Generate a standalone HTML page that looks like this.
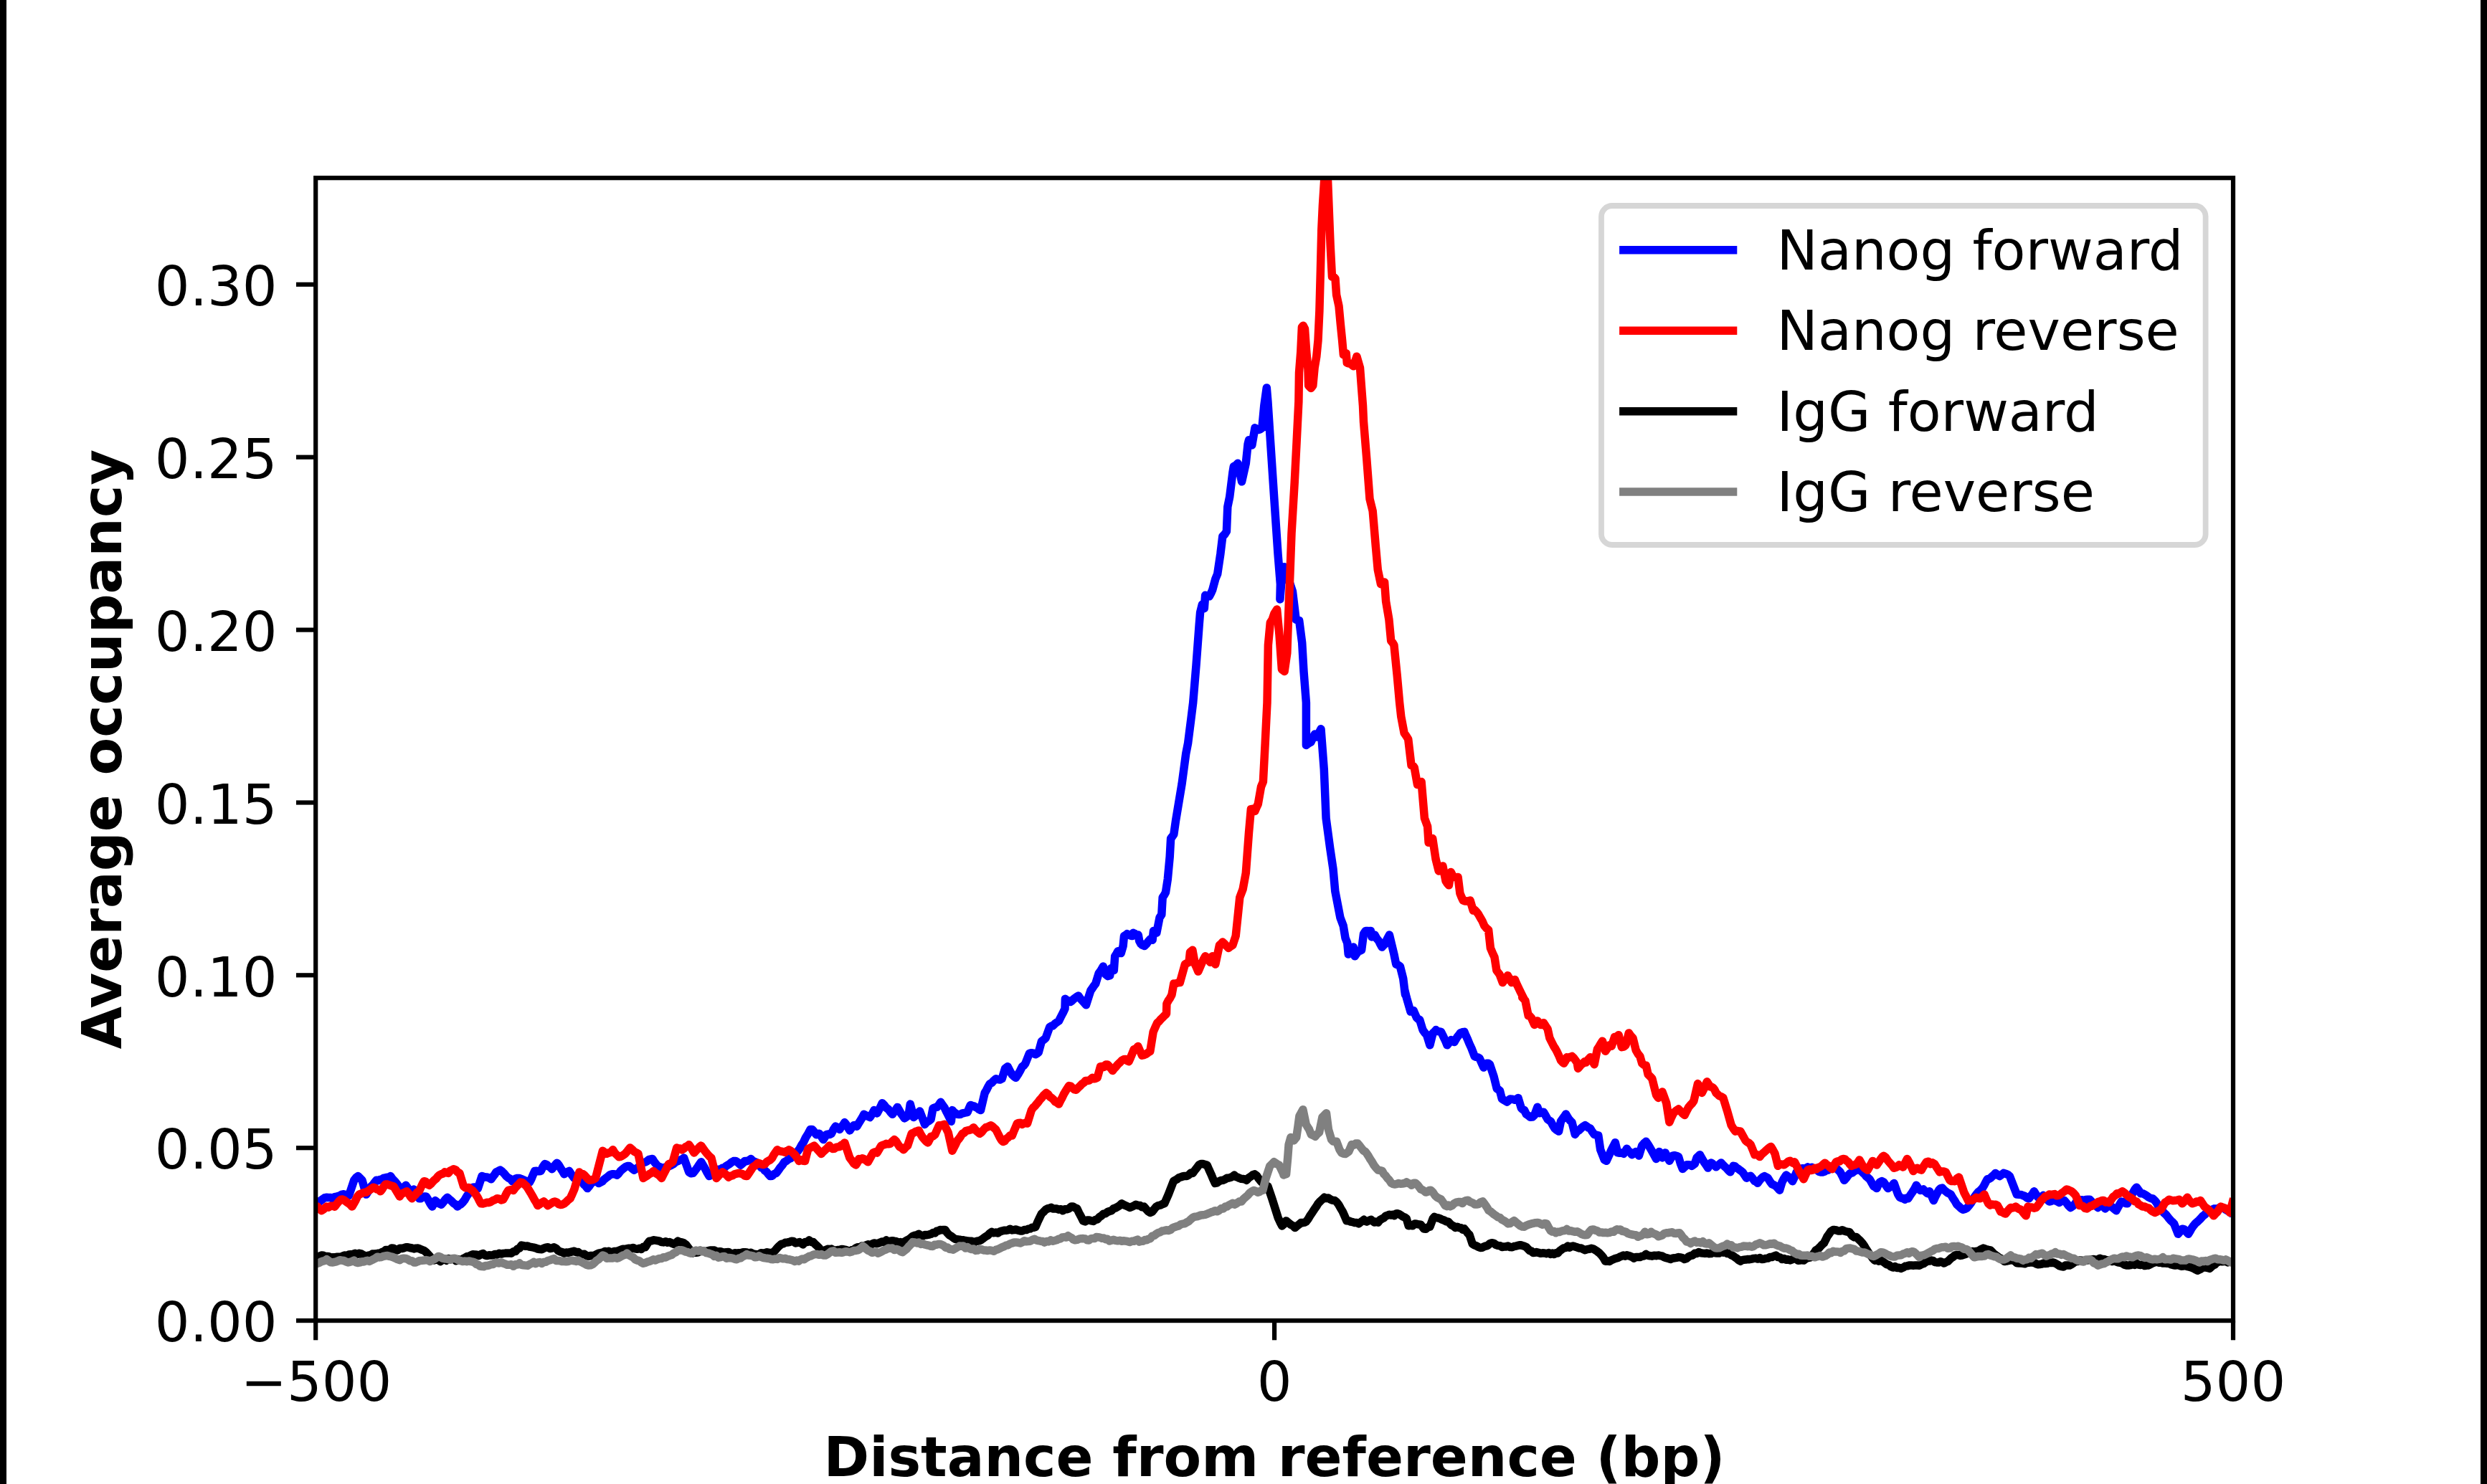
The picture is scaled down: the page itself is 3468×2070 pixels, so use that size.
<!DOCTYPE html>
<html lang="en"><head><meta charset="utf-8"><title>Average occupancy</title>
<style>
html,body{margin:0;padding:0;background:#fff;}
body{width:3468px;height:2070px;overflow:hidden;position:relative;}
svg{position:absolute;left:0;top:0;display:block;}
text{font-family:"DejaVu Sans","Liberation Sans",sans-serif;fill:#000;}
.b{font-weight:bold;}
</style></head><body>
<svg width="3468" height="2070" viewBox="0 0 3468 2070">
<rect x="0" y="0" width="3468" height="2070" fill="#fff"/>
<rect x="0" y="0" width="9" height="2070" fill="#000"/>
<rect x="3459" y="0" width="9" height="2070" fill="#000"/>

<defs><clipPath id="ax"><rect x="440.2" y="248.2" width="2673.8" height="1593.8999999999999"/></clipPath></defs>
<g clip-path="url(#ax)">
<polyline points="438.5,1678.8 440.6,1678.2 442.7,1676 445.3,1676.3 447.8,1674.4 450.4,1672.4 452.9,1670.6 455.5,1670.3 458.3,1670.5 461.2,1670.6 464,1672.3 466.5,1669.7 469.1,1669.3 471.6,1668.5 474.2,1667.7 476.7,1666.1 479.2,1665.8 481.6,1666.5 484.1,1667 486.6,1667.5 493.7,1646.3 496.5,1642.7 499.3,1640.6 502.1,1643.4 505,1646.3 510.7,1666.1 513,1662.4 515.4,1659.5 517.7,1654.8 520.1,1652.6 522.4,1649.3 524.8,1646.3 527.3,1646.7 529.8,1645.5 532.2,1645.1 534.7,1643.4 537.2,1642.9 539.7,1642.2 542.1,1642.2 544.6,1640.6 547,1644 549.3,1646.6 551.7,1649.1 554.1,1652.1 556.4,1655.7 558.8,1659 561.2,1657.2 563.5,1655.6 565.9,1653.3 568.7,1657.1 571.5,1660.4 574.4,1660.8 577.2,1659 579.6,1663.4 581.9,1667.6 584.3,1671.7 586.8,1671.7 589.2,1669.8 591.7,1669 594.2,1668.9 597,1673.3 599.9,1679 602.7,1683.1 604.8,1679.1 606.9,1674.6 609.7,1677 612.6,1679 615.4,1680.2 618.2,1677 621.1,1672.9 623.9,1670.3 626.7,1673 629.5,1675.3 632.4,1678.3 635.2,1680 638,1683.1 640.4,1680.7 642.7,1679.8 645.1,1677.4 647.9,1673.9 650.8,1668.7 653.6,1664.7 656.5,1659.8 659.3,1656.2 661.7,1656 664,1657.5 666.4,1657.6 672,1640.6 674.4,1641.3 676.7,1641.9 679.1,1642 682,1642.9 684.8,1644.8 687.1,1641.6 689.5,1638.7 691.8,1634.9 694.6,1633.6 697.5,1632.1 700.3,1634.2 703.2,1637.1 706,1640.6 708.8,1643 711.7,1644.4 714.5,1647.7 716.8,1645.7 719.2,1644 721.5,1643.4 724,1643.5 726.5,1644.4 729,1645.4 731.5,1646.3 733.8,1648.2 736.2,1648.9 738.5,1649.1 740.9,1644.5 743.2,1638.9 745.6,1633.5 748.4,1633.3 751.3,1633.8 754.1,1633.5 757,1627.6 759.8,1623.6 762.3,1624.6 764.8,1626.9 767.2,1628.1 769.7,1630.7 772,1627.8 774.4,1624.7 776.7,1622.2 779.2,1625 781.7,1629.4 784.2,1633.3 786.7,1637.8 789,1635.6 791.4,1634.5 793.7,1633.5 796.1,1637.2 798.4,1640.3 800.8,1643.4 803.6,1644.5 806.5,1645.7 809.3,1646.3 811.8,1648.4 814.2,1652.2 816.7,1654.4 819.2,1657.6 821.6,1654.8 823.9,1651.4 826.3,1649.1 829.1,1647.6 832,1648 834.8,1650.5 837.6,1649.1 840,1647.9 842.3,1645.3 844.7,1643.4 847.5,1641.4 850.4,1638.9 853.2,1637.8 855.5,1637.8 857.9,1638 860.2,1639.2 862.7,1636.9 865.2,1633.6 867.7,1631.3 870.2,1629.3 872.5,1627.5 874.9,1626.5 877.2,1626.4 879.6,1628.4 881.9,1630.3 884.3,1632.1 886.8,1630.3 889.2,1628.7 891.7,1626.7 894.2,1623.6 897,1621.8 899.9,1621 902.7,1619.4 905.1,1617.3 907.4,1616.9 909.8,1616.5 912.2,1620.5 914.5,1623.3 916.9,1626.4 919.2,1627.3 921.6,1628.4 923.9,1629.3 926.4,1628.6 928.8,1627.9 931.3,1626.6 933.8,1626.4 936.6,1625 939.5,1623.4 942.3,1620.8 945.1,1619.6 948,1618.3 950.9,1617.1 953.7,1615.1 960.7,1634.9 963.5,1636.8 966.4,1636.4 969.2,1632.9 972,1629.1 974.9,1624.8 977.7,1620.8 980.5,1625.4 983.4,1630.4 986.2,1635.9 989,1640.6 991.5,1639.1 994,1636.7 996.4,1634.1 998.9,1632.1 1001.7,1631.3 1004.6,1631.6 1007.4,1629.3 1009.9,1629.2 1012.3,1626.6 1014.8,1625.1 1017.3,1623.6 1020.1,1621.3 1023,1619.6 1025.8,1619.4 1028.2,1620.9 1030.5,1623 1032.9,1625 1035.8,1622.6 1038.6,1619.4 1041.4,1619.7 1044.3,1618.6 1047.1,1616.5 1049.6,1619.5 1052,1620.3 1054.5,1621.3 1057,1623.6 1059.3,1625.5 1061.7,1628.9 1064,1629.3 1066.5,1632.9 1069,1634.7 1071.5,1637.8 1074,1640.6 1076.8,1640.2 1079.6,1637.5 1082.4,1636.4 1085.2,1632.8 1088.1,1628.5 1091,1625.2 1093.8,1620.8 1096.6,1619.4 1099.4,1617.1 1102.3,1615.8 1105.1,1612.3 1107.6,1610.2 1110,1607.2 1112.5,1605.7 1115,1602.4 1117.8,1597.2 1120.7,1592.8 1123.5,1586.8 1126.8,1581.5 1130,1575.5 1132.6,1575.5 1135.4,1578.8 1138.2,1582.6 1140.3,1581.7 1142.5,1581.2 1145.3,1585.4 1148.1,1589.6 1150.2,1586.2 1152.4,1582.6 1154.7,1582 1157.1,1582.5 1159.4,1581.2 1162.2,1575.5 1165.1,1571.2 1167.9,1572.6 1170.8,1575.5 1173.1,1571.8 1175.5,1569.5 1177.8,1565.6 1180.2,1568.8 1182.5,1572.8 1184.9,1576.9 1187.8,1572.7 1190.6,1569.8 1192.7,1569.5 1194.8,1571.2 1197.3,1567 1199.8,1562.9 1202.2,1559.1 1204.7,1554.3 1207.5,1555.8 1210.4,1557.3 1213.2,1558.5 1216.1,1554 1218.9,1548.6 1221,1551.5 1223.1,1552.9 1225.5,1548.3 1227.8,1543.9 1230.2,1538.7 1233,1541.4 1235.9,1545.2 1238.7,1547.2 1241.6,1551.1 1244.4,1554.3 1246.7,1551.1 1249.1,1547.9 1251.4,1544.4 1253.9,1548.7 1256.3,1553 1258.8,1556.4 1261.3,1559.9 1264.2,1557.8 1267,1555.7 1269.3,1540.1 1274.1,1558.5 1276.9,1556 1279.8,1552.5 1282.6,1550 1289.6,1568.4 1292.4,1565 1295.3,1563.6 1298.1,1561.3 1301,1545.8 1303.8,1544.8 1306.6,1544.4 1309.2,1541.2 1311.7,1537.3 1314.3,1541.3 1316.8,1544.6 1319.4,1550 1321.7,1554.4 1324.1,1559.3 1326.4,1564.2 1327.9,1548.6 1330.2,1551.3 1332.6,1553 1334.9,1554.3 1337.3,1554.5 1339.6,1554.2 1342,1552.9 1344.4,1552.5 1346.7,1552 1349.1,1551.4 1351.2,1546.1 1353.3,1541.5 1355.7,1542.4 1358,1542.8 1360.4,1544.4 1362.8,1545.3 1365.1,1547.4 1367.5,1548.6 1373.2,1524.5 1375.5,1520.6 1377.9,1515.8 1380.2,1511.8 1383,1510.4 1385.9,1507.2 1388.7,1504.7 1391.5,1505.6 1394.4,1506.1 1397.2,1504.7 1401.5,1490.6 1405.1,1487.7 1408.2,1493.7 1411.4,1499.1 1414,1501.5 1416.5,1503.3 1419.5,1498.8 1422.5,1493.6 1425.5,1487.7 1427.7,1486.2 1429.8,1483.5 1435.4,1469.3 1438.2,1468.7 1441.1,1469.2 1443.9,1470.8 1446.1,1469.7 1448.2,1467.9 1452.4,1452.4 1455.2,1450.5 1458.1,1448.1 1463.7,1432.6 1465.8,1431.3 1468,1431.1 1470.8,1428.2 1473.7,1426 1476.5,1424.1 1479.3,1418.5 1482.2,1412.9 1485,1407.1 1485.4,1393.3 1487.8,1395.5 1490.1,1395.9 1492.5,1397.5 1494.8,1396.1 1497.2,1393.6 1499.5,1391.8 1501.7,1390.2 1503.8,1389 1506.5,1392.9 1509.2,1395.8 1511.8,1398.7 1514.5,1401.8 1520.8,1381.9 1523.1,1378.6 1525.5,1375.1 1527.8,1372 1532.1,1357.9 1535.2,1353.5 1538.3,1348 1542,1359.3 1544.8,1361.6 1547.7,1360.7 1549.1,1350.8 1551.2,1353.2 1553.3,1353.6 1554.7,1333.8 1556.8,1330.6 1559,1326.7 1561.1,1329 1563.2,1329.6 1566.1,1319.7 1567.5,1305.5 1569.6,1304.4 1571.7,1302.7 1574.1,1304.1 1576.4,1305.1 1578.8,1305.5 1580.2,1301.3 1582.6,1302.5 1584.9,1304.5 1587.3,1304.1 1588.7,1312.6 1590.8,1316.5 1592.9,1318.3 1595.8,1319.5 1598.6,1316.8 1601.4,1312.9 1604.3,1309.8 1607.1,1311.2 1608.5,1298.4 1610.7,1300.7 1612.8,1301.3 1617,1280 1619.8,1275.8 1621.2,1251.7 1623.3,1248.7 1625.5,1244.7 1628.3,1226.3 1631.2,1195.1 1632.6,1169.6 1634.7,1166.9 1636.8,1164 1639.6,1144.2 1648.1,1093.2 1653.8,1050.8 1656.6,1036.6 1660.9,1002.6 1663.7,980 1668,928 1672.2,871.4 1673.6,854.4 1676.4,843.1 1679.3,848.7 1680.7,830.3 1683.6,831 1686.4,831.7 1688.5,827.8 1690.6,823.2 1694.8,807.7 1697.7,800.6 1701.9,772.3 1704.8,748.2 1707.6,745.5 1710.4,741.2 1711.8,707.2 1714.7,693 1718.9,659.1 1720.3,650.6 1723.2,649.4 1726,646.3 1731.6,671.8 1737.3,646.3 1740.1,619.4 1741.5,613.8 1743.7,617.7 1745.8,620.9 1750,596.8 1752.2,598.5 1754.3,599.6 1757.1,598.9 1759.9,596.8 1762.8,565.7 1766.3,540.9 1767.9,560 1771.6,616.6 1777.2,701.5 1782,772.3 1785.4,814.8 1784.9,836 1788.3,794.9 1791.1,790.7 1802.4,824.7 1807.2,864.3 1809.5,865.3 1811.7,865.7 1815.7,896.8 1818,936.5 1821.4,980.1 1821.4,1039.4 1824.7,1036.9 1827.9,1035.2 1830.7,1029.2 1833.5,1023.9 1836.4,1028.1 1839.2,1022.3 1842,1016.8 1846.3,1073.4 1849.1,1141.3 1854.8,1183.8 1859,1212.1 1861.8,1243.2 1868.9,1280 1873.2,1291.4 1876,1308.3 1878.8,1315.4 1880.2,1331 1882.6,1327.7 1884.9,1325.4 1887.3,1321.1 1889.3,1333.8 1891.8,1330.1 1894.4,1326.7 1896.5,1326.2 1898.6,1325.3 1901.5,1302.7 1904.3,1298.4 1906.7,1298.5 1909,1298.7 1911.4,1298.4 1912.8,1306.9 1914.9,1306.4 1917,1304.1 1919.8,1309.1 1922.7,1312.6 1924.8,1317.1 1927,1321.1 1929.1,1318.8 1931.2,1316.8 1934.3,1310 1937.4,1304.1 1943.9,1331 1946.8,1345.1 1949.6,1346.1 1952.4,1348 1956.7,1365 1959.5,1387.6 1958.5,1380 1961.3,1391.3 1967,1411.1 1969.1,1411.1 1971.2,1409.7 1973.3,1414.7 1975.5,1419.6 1977.6,1421.5 1979.7,1422.5 1984,1436.6 1986.8,1440.6 1989.6,1443.7 1993.9,1457.8 1998.1,1440.9 2000.2,1439.2 2002.4,1436.6 2004.8,1438.6 2007.1,1438.9 2009.5,1439.4 2011.6,1443.5 2013.7,1447.9 2015.8,1452.4 2018,1457.8 2020.8,1454.4 2023.6,1450.8 2025.8,1452.1 2027.9,1453.6 2030,1449.9 2032.1,1446.5 2034.2,1444 2036.4,1440.9 2039.2,1439.8 2042,1439.4 2044.2,1444.8 2046.3,1449.3 2049.1,1456.1 2051.9,1462.1 2056.2,1473.4 2058.5,1474.4 2060.9,1474.8 2063.2,1476.2 2066.1,1482.9 2068.9,1489 2071.1,1485.8 2073.2,1483.3 2075.3,1483.2 2077.4,1484.7 2083.1,1501.7 2087.3,1518.7 2089.4,1519.8 2091.5,1521.5 2094.4,1532.9 2096.8,1534.3 2099.1,1535.7 2101.5,1537.1 2103.6,1535.2 2105.7,1532.9 2108.1,1533.2 2110.4,1533.7 2112.8,1534.3 2114.9,1533.5 2117,1531.4 2121.3,1545.6 2123.4,1547.7 2125.5,1548.4 2128.3,1554.1 2131.2,1556.2 2134,1558.3 2136.8,1558.1 2139.7,1555.5 2143.9,1544.2 2146.7,1552.7 2149.6,1551 2152.4,1551.2 2155.2,1556 2158.1,1561.2 2160.2,1562.9 2162.3,1564 2165.2,1569.4 2168,1573.9 2170.8,1576.4 2173.6,1578.1 2176.5,1564 2178.8,1560.7 2181.2,1557.6 2183.5,1554.1 2185.7,1557.7 2187.8,1561.2 2189.9,1563.5 2192,1565.4 2196.3,1582.4 2199.1,1578.2 2201.9,1576.7 2204.7,1573.9 2207.6,1571.3 2210.4,1569.6 2212.8,1571.3 2215.1,1573.1 2217.5,1573.9 2220.3,1578.6 2223.2,1582.4 2226,1583.2 2228.8,1583.8 2231.7,1603.6 2237.3,1617.8 2240.2,1619.2 2242.5,1614.2 2244.9,1608.8 2247.2,1603.6 2249.8,1598.7 2252.3,1593.7 2255.7,1607.9 2258.5,1608.3 2261.4,1608.1 2264.2,1609.3 2266.3,1606.3 2268.5,1602.2 2270.8,1605.7 2273.2,1607.2 2275.5,1610.7 2278.3,1608.7 2281.2,1606.4 2283.3,1608.7 2285.4,1612.1 2289.7,1598 2292.5,1594.7 2295.3,1592.3 2297.7,1595.7 2300,1599.5 2302.4,1603.6 2304.8,1607.8 2307.1,1612 2309.5,1616.4 2311.6,1610.9 2313.7,1606.4 2315.8,1610.4 2318,1614.9 2320.1,1611.4 2322.2,1607.9 2325.1,1614.1 2327.9,1619.2 2330,1615.8 2332.1,1612.1 2334.9,1611.7 2337.8,1612.3 2340.6,1613.5 2343.5,1623.4 2346.3,1630.5 2349.2,1627.8 2352,1624.8 2354.3,1624.7 2356.7,1624.9 2359,1626.3 2361.2,1624.9 2363.3,1623.4 2366.1,1614.9 2368.2,1612.8 2370.4,1610.7 2373.2,1615.7 2376,1620.6 2378.8,1624.6 2381.7,1629.1 2383.8,1625.2 2385.9,1622 2388.3,1623.5 2390.6,1625.5 2393,1627.7 2395.4,1625.5 2397.7,1624 2400.1,1622 2402.5,1624.7 2404.8,1627.1 2407.2,1629.1 2410,1632.4 2412.8,1634.8 2414.9,1630.4 2417.1,1626.3 2419.4,1626.9 2421.8,1629.2 2424.1,1630.5 2426.9,1632.7 2429.8,1634.8 2432.7,1639.1 2435.5,1643.2 2438.3,1641.1 2441.1,1640.4 2443.9,1643.6 2446.8,1647.5 2448.9,1648.3 2451,1650.3 2453.4,1646.9 2455.7,1644.1 2458.1,1641.8 2460.5,1640.6 2462.8,1642 2465.2,1643.2 2468,1647.8 2470.8,1651.7 2473.7,1652.9 2476.5,1654.6 2479.1,1657.4 2481.6,1660.2 2485,1648.9 2487.8,1643.5 2490.7,1639 2493.5,1641.2 2496.3,1643.2 2499.5,1647.7 2502.3,1641.9 2505.2,1634.9 2508.1,1632.6 2510.9,1630.7 2513.4,1629.7 2515.9,1630.3 2518.3,1629.3 2520.8,1627.9 2523.6,1629.2 2526.5,1628.4 2529.3,1630.7 2531.8,1630.8 2534.4,1632.7 2536.9,1634.5 2539.5,1635.1 2542,1634.9 2544.4,1634 2546.7,1632.6 2549.1,1632.1 2551.9,1628.9 2554.8,1627.1 2557.6,1626.4 2560.4,1629.3 2563.3,1632.1 2566.1,1634.9 2568.9,1640.2 2571.7,1646.3 2574.6,1643.1 2577.4,1639.2 2580.2,1636.5 2583.1,1635.8 2585.9,1633.5 2588.2,1632.5 2590.6,1631.9 2592.9,1630.7 2595.3,1633.5 2597.6,1635.8 2600,1637.8 2602.4,1640.9 2604.7,1642.8 2607.1,1644.8 2609.9,1649.8 2612.8,1654.8 2614.9,1655.8 2617,1657.6 2619.1,1652.8 2621.2,1649.1 2624.1,1647.6 2626.9,1649.1 2629.8,1653.5 2632.6,1657.6 2635.4,1655.8 2638.3,1653.9 2641.1,1650.5 2646.7,1666.1 2649.1,1670 2651.4,1671.1 2653.8,1671.7 2656.2,1673.2 2658.5,1671.1 2660.9,1671.7 2663.7,1667.2 2666.5,1663.2 2669.3,1659 2672.2,1653.3 2675.1,1657.5 2677.9,1660.4 2680,1660.1 2682.1,1659 2684.9,1662.1 2687.8,1664.7 2690.6,1661.8 2693.4,1667.7 2696.3,1674.6 2699.1,1668.4 2701.9,1663.2 2704.1,1659.5 2706.2,1657.6 2708.5,1657.1 2710.9,1660 2713.2,1661.8 2715.6,1663.7 2717.9,1664.8 2720.3,1666.1 2723.1,1671 2726,1675.2 2728.8,1680.2 2731.6,1682.6 2734.5,1685.4 2737.3,1687.3 2740.1,1686.5 2743,1684.9 2745.8,1681.6 2748.3,1678.3 2750.8,1674.1 2753.2,1669.8 2755.7,1666.1 2758.5,1662.8 2761.4,1660.5 2764.2,1657.6 2766.6,1653.6 2768.9,1649.2 2771.3,1644.8 2773.6,1644.5 2776,1642.9 2778.3,1640.6 2780.4,1638.8 2782.6,1636.4 2785.4,1638.6 2788.3,1640.6 2791.1,1638.6 2793.9,1636.4 2796.7,1637.2 2799.6,1638.3 2802.4,1640.6 2812.3,1666.1 2815.1,1666.3 2818,1666.4 2820.8,1667.5 2823.6,1668.5 2826.5,1670.9 2829.3,1671.7 2831.7,1668.5 2834,1665.7 2836.4,1661.8 2839.2,1666.3 2842,1670.3 2844.4,1670.7 2846.7,1669.3 2849.1,1667.5 2851.9,1669.7 2854.8,1673.5 2857.6,1676 2860,1675.6 2862.3,1673.5 2864.7,1674.6 2867.1,1675 2869.4,1676.3 2871.8,1677.4 2874.1,1675.5 2876.5,1674.7 2878.8,1674.6 2881.6,1677.9 2884.5,1681.9 2887.3,1684.5 2890.1,1682.6 2893,1679.8 2895.8,1676 2898.3,1677.4 2900.8,1673.9 2903.2,1673.7 2905.7,1674.6 2908.6,1673.5 2911.4,1673.2 2914.2,1673.3 2917.1,1676.6 2919.9,1678.8 2922.7,1682 2925.5,1684.5 2928.3,1682.1 2931.2,1680.2 2933.3,1682.8 2935.4,1685.9 2937.8,1683.7 2940.1,1682.7 2942.5,1681.6 2945.3,1683.8 2948.2,1686.3 2951,1688.7 2953.4,1684.1 2955.7,1680.2 2958.1,1676 2960.9,1676.6 2963.8,1678.5 2966.6,1678.8 2969,1674.3 2971.3,1669 2973.7,1664.7 2976.5,1659.7 2979.3,1656.2 2982.2,1660.1 2985,1664.7 2987.8,1664.7 2990.6,1666.1 2993.4,1667.9 2996.3,1670 2999.1,1671.5 3002,1672 3004.8,1674.6 3007.2,1677.6 3009.5,1682 3011.9,1685.9 3014.7,1688.1 3017.6,1691.9 3020.4,1694.4 3022.7,1697.3 3025.1,1700.3 3027.4,1702.9 3029.6,1704.7 3031.7,1707.1 3037.3,1721.3 3040.2,1717.6 3043,1714.2 3045.8,1714.9 3048.7,1718.1 3051.5,1721.3 3053.9,1717.4 3056.2,1713.3 3058.6,1709.9 3061.1,1706.8 3063.6,1704.6 3066,1702.4 3068.5,1700 3071.3,1696.7 3074.2,1694.5 3077,1691.5 3079.5,1689.3 3082.1,1689.6 3084.6,1687.3 3087.2,1686.1 3089.7,1685.9 3092.5,1686 3095.4,1684.4 3098.2,1684.5 3100.8,1685 3103.4,1687.3 3106,1688.7 3108.6,1690.1 3111.2,1691.9 3113.8,1694.4" fill="none" stroke="#0000ff" stroke-width="11.5" stroke-linejoin="round" stroke-linecap="butt"/>
<polyline points="438.5,1684.5 440.6,1685.6 442.7,1683.1 445.5,1686.1 448.4,1688.7 450.8,1687.2 453.1,1685.2 455.5,1683.1 458.3,1684.1 461.1,1682.2 464,1682.3 466.8,1683.1 469.6,1679.3 472.5,1675.8 475.3,1673.2 477.7,1673 480,1674.2 482.4,1676 485.2,1677.9 488.1,1680 490.9,1683.1 493.4,1678.8 495.9,1674.4 498.3,1669.1 500.8,1666.1 503.3,1665.1 505.8,1664.2 508.2,1663.2 510.7,1663.2 513.2,1661.3 515.6,1659.8 518.1,1658 520.6,1656.2 523.1,1657.1 525.5,1658.9 528,1659.4 530.5,1661.8 532.9,1658.8 535.2,1654.8 537.6,1651.9 540.4,1652.1 543.2,1653.1 546.1,1654.2 548.9,1654.8 551.7,1659.4 554.6,1664.3 557.4,1668.9 559.9,1665.1 562.3,1664.3 564.8,1662.9 567.3,1661.8 569.7,1664.7 572,1668.8 574.4,1671.7 576.9,1668.9 579.3,1666.5 581.8,1663.1 584.3,1661.8 586.6,1656.8 589,1651.7 591.3,1647.7 593.7,1648.1 596,1652 598.4,1653.3 600.8,1651.5 603.1,1648.8 605.5,1646.3 608,1644.3 610.5,1641.2 612.9,1638.9 615.4,1637.8 617.9,1637 620.3,1634.9 622.8,1635.9 625.3,1636.4 627.7,1633.2 630,1632 632.4,1630.7 635.2,1631.6 638.1,1635 640.9,1636.4 646.5,1654.8 649,1656.8 651.5,1656.8 653.9,1656.5 656.4,1659 658.8,1660.4 661.1,1663.2 663.5,1666.1 665.9,1669.8 668.2,1674.4 670.6,1678.8 673.4,1679 676.2,1678.2 679.1,1677.3 681.9,1677.4 684.7,1676.3 687.5,1674.4 690.4,1673.5 693.2,1671.7 696,1672.1 698.9,1673.9 701.7,1673.2 704.1,1669 706.4,1664.3 708.8,1660.4 711.2,1659.9 713.5,1659.4 715.9,1660.4 718.4,1656.9 720.8,1654.3 723.3,1652 725.8,1649.1 728.6,1649.7 731.5,1652.2 734.3,1654.8 737.1,1659.2 740,1664 742.8,1668.9 745.2,1673.3 747.5,1676.9 749.9,1681.6 752.7,1679.7 755.5,1677.6 758.3,1676 761.1,1678.7 764,1681.6 766.5,1679.9 769,1678.4 771.4,1676.8 773.9,1676 776.4,1677 778.8,1679.5 781.3,1680.4 783.8,1680.2 786.6,1679 789.5,1676.6 792.3,1673.8 795.1,1671.7 798,1665.5 800.8,1659 807.9,1634.9 810.3,1637.7 812.6,1637.5 815,1639.2 817.3,1641.8 819.7,1644.5 822,1646.3 824.8,1645.9 827.7,1645.1 830.5,1643.4 840.4,1605.2 843.2,1607.5 846.1,1609.3 848.9,1608 851.8,1607.4 854.6,1603.8 857.4,1608.4 860.3,1611.1 863.1,1613.7 865.9,1613.3 868.8,1611.4 871.6,1609.5 873.9,1606.9 876.3,1603.7 878.6,1601 881.5,1603.4 884.3,1606.2 887.1,1607.7 890,1609.5 897,1643.4 899.8,1641.7 902.7,1639.9 905.5,1637.6 908.4,1636.1 911.2,1633.5 914,1636.3 916.9,1638 919.7,1640.1 922.5,1643.4 925,1638.5 927.5,1633.7 929.9,1629 932.4,1623.6 935.2,1622.7 938.1,1620.8 943.7,1601 946.1,1602.3 948.4,1601.9 950.8,1603.8 953.3,1602.5 955.8,1599.9 958.2,1598.9 960.7,1596.7 963.1,1600.1 965.4,1603.8 967.8,1608 970.3,1605.3 972.8,1602.7 975.2,1600.1 977.7,1598.1 980.5,1602.1 983.4,1606.1 986.2,1609.5 989,1612.7 991.9,1615.1 998.9,1643.4 1001.7,1640.5 1004.6,1637.3 1007.4,1634.9 1010.2,1636.8 1013.1,1639.1 1015.9,1642 1018.7,1640.3 1021.6,1639.6 1024.4,1637.8 1027.2,1637.1 1030.1,1636.4 1032.9,1636.9 1035.8,1637.8 1038.6,1640.1 1041.4,1640.6 1044.2,1636.6 1047.1,1632.3 1049.9,1627.9 1052.3,1626.3 1054.6,1624.5 1057,1622.2 1059.5,1623 1062,1624.1 1064.4,1624.5 1066.9,1623.6 1069.3,1620.5 1071.6,1619.2 1074,1618 1076.5,1615.5 1079,1610.8 1081.4,1607.4 1083.9,1603.8 1086.7,1605.6 1089.6,1606 1092.4,1606.6 1094.7,1607.4 1097.1,1605.2 1099.4,1605.2 1100,1603.8 1102.8,1605.3 1105.7,1608.1 1108.5,1610.9 1111.3,1614.7 1114.2,1619.4 1117,1617.8 1119.8,1619.3 1122.6,1619.4 1126.9,1602.4 1129.7,1601.1 1132.6,1599.6 1135.4,1598.1 1137.9,1600.8 1140.3,1603.8 1142.8,1606.6 1145.3,1609.5 1148.1,1606.3 1150.9,1603.9 1153.8,1601.2 1156.6,1598.1 1158.8,1600.4 1160.9,1602.4 1163.4,1602.3 1165.8,1600.4 1168.3,1599.9 1170.8,1599.6 1173.1,1597.3 1175.5,1596.4 1177.8,1593.9 1184.9,1615.1 1187.7,1618.8 1190.6,1622.9 1193.4,1625 1195.6,1621.7 1197.7,1616.5 1200,1617.4 1202.4,1615.8 1204.7,1616.5 1207.6,1618.7 1210.4,1620.8 1212.8,1616.5 1215.1,1612.2 1217.5,1608 1220.3,1606.8 1223.1,1608 1225.9,1603.1 1228.8,1598.1 1231.2,1597.3 1233.5,1596.6 1235.9,1595.3 1238.7,1595.8 1241.5,1595.3 1244.3,1592.1 1247.2,1589.6 1249.6,1591.9 1251.9,1595.7 1254.3,1599.6 1257.1,1601 1259.9,1603.8 1262.8,1600.4 1265.6,1598.1 1271.2,1581.2 1274.1,1580.1 1276.9,1578.3 1279.1,1577.7 1281.2,1576.9 1284,1582.4 1286.8,1586.8 1289.2,1589.6 1291.5,1592.1 1293.9,1593.9 1296,1590 1298.1,1585.4 1300.9,1584.8 1303.8,1582.6 1306.7,1576 1309.5,1569.8 1311.8,1570 1314.2,1569.2 1316.5,1568.4 1319.3,1573.8 1322.2,1579.7 1327.9,1605.2 1330.2,1600.6 1332.6,1596 1334.9,1591.1 1337.3,1588.4 1339.6,1585.1 1342,1581.2 1344.4,1580.4 1346.7,1577.6 1349.1,1576.9 1351.9,1576.3 1354.8,1575.4 1357.6,1572.7 1360.4,1576.4 1363.3,1579 1366.1,1581.2 1368.9,1579.2 1371.8,1575.5 1374.6,1572.7 1376.9,1572.2 1379.3,1571 1381.6,1569.8 1384,1571.2 1386.3,1573.6 1388.7,1575.5 1391.6,1581.3 1394.4,1586.8 1396.5,1590.4 1398.6,1592.5 1401,1591.6 1403.3,1588.3 1405.7,1586.8 1408.6,1583.8 1411.4,1584 1413.7,1578 1416.1,1572.5 1418.4,1567 1420.8,1566.4 1423.1,1566.2 1425.5,1568.4 1427.9,1567 1430.2,1566.1 1432.6,1567 1438.3,1548.6 1440.6,1545.1 1443,1543 1445.3,1540.1 1447.7,1537.4 1450,1534.2 1452.4,1531.6 1455.7,1527.4 1458.9,1524.5 1461.5,1526.4 1464,1529.9 1466.6,1531.6 1469.1,1533.8 1471.5,1536.8 1474,1538 1476.5,1540.1 1478.8,1535.3 1481.2,1530.9 1483.5,1526 1485.9,1522 1488.2,1518.3 1490.6,1514.6 1493.1,1515.1 1495.5,1517.5 1498,1519.6 1500.5,1520.3 1503.3,1517.4 1506.2,1514.7 1509,1511.8 1511.4,1510.2 1513.7,1507.5 1516.1,1507.6 1518.5,1507.2 1520.8,1505.6 1523.2,1503.3 1525.5,1504.8 1527.9,1504.3 1530.2,1503.3 1534.5,1487.7 1537,1487.5 1539.5,1488.4 1541.9,1485.1 1544.4,1484.9 1546.8,1487.5 1549.1,1490.3 1551.5,1493.4 1553.9,1490.3 1556.2,1487.9 1558.6,1484.9 1561.4,1482.3 1564.2,1479.3 1567,1477.8 1569.4,1477.5 1571.7,1479.5 1574.1,1480.7 1576.5,1475.3 1578.8,1469.7 1581.2,1463.7 1584.1,1462.8 1586.9,1459.4 1589.7,1465.9 1592.5,1472.2 1595.3,1471.6 1598.2,1470.2 1601,1468.2 1603.8,1466.5 1608.1,1439.6 1610.9,1433.1 1613.7,1426.9 1616.1,1424.8 1618.4,1422 1620.8,1419.8 1623.7,1416.8 1626.5,1414.2 1626.9,1400.1 1629.3,1395.5 1631.6,1392.2 1634,1387.6 1636.8,1372 1639.6,1372 1642.5,1370.8 1645.3,1370.6 1652.4,1345.1 1655.2,1343.5 1658,1342.3 1659.5,1328.2 1662.9,1325.3 1666.5,1345.1 1668.7,1350 1670.8,1355.1 1673.6,1348.7 1676.4,1342.3 1678.6,1337.5 1680.7,1333.8 1683.1,1335.7 1685.4,1339.3 1687.8,1342.3 1690.6,1333.8 1694.8,1345.1 1700.5,1318.3 1702.7,1316.6 1704.8,1314 1707.6,1316.5 1710.4,1319.6 1713.2,1322.5 1716.1,1320 1718.9,1318.3 1723.2,1305.5 1728.8,1251.7 1733.1,1240.4 1737.3,1217.8 1741.5,1161.2 1744.4,1128.6 1747.2,1128.3 1750,1131.4 1752.2,1126 1754.3,1121.5 1758.5,1097.5 1761.4,1090.4 1764.2,1036.6 1767,980 1768.4,899.7 1771.3,868.5 1774.1,864.3 1776.9,855.8 1780.6,850.1 1784,885.5 1787.4,933.6 1791.1,936.5 1794.8,911 1796.7,857.2 1798.7,806.3 1801,744 1805.2,673.2 1808.1,616.6 1810.9,560 1811.5,519.9 1813.8,490.4 1815.4,456.4 1817.2,454.2 1819.5,458.7 1821.7,490.4 1824,515.3 1824.7,538 1828.1,541.4 1830.8,538 1833.1,513.1 1835.8,497.2 1838,474.6 1839.9,433.8 1841.4,377.2 1842.8,320.6 1844.4,286.6 1846.6,252.6 1848.9,216.4 1851.6,252.6 1853.4,297.9 1855.2,343.2 1857.5,386.2 1859.8,386.2 1862,388.5 1863.6,411.2 1867,427 1869.3,451.9 1871.6,474.6 1873.4,494.9 1877.2,492.7 1878.3,506.3 1880.6,506.9 1882.9,507.4 1885.2,509 1887.4,510.8 1891.9,497.2 1896.5,513.1 1898.7,542.5 1900.5,566 1901.5,588.3 1905.7,639.3 1910,695.9 1914.2,712.9 1918.5,763.8 1921.3,794.9 1925.5,814.8 1928,813.3 1930.6,811.9 1932.6,838.8 1936.9,864.3 1939.7,894 1941.8,896.2 1943.9,899.7 1948.2,942.1 1951.6,980.1 1953.8,999.8 1958.1,1022.5 1960.9,1026.5 1963.7,1031 1968,1067.7 1970.1,1067.9 1972.2,1070.6 1976.5,1094.6 1979.3,1092.1 1982.1,1090.4 1986.4,1141.3 1990.6,1152.7 1992.1,1175.3 1994.9,1173 1997.7,1169.6 2002,1198 2006.2,1214.9 2009.1,1211.1 2011.9,1207.9 2016.1,1229.1 2018.2,1232.2 2020.4,1234.8 2023.2,1216.4 2025.3,1220.5 2027.4,1223.4 2030.2,1223.9 2033.1,1223.4 2035.9,1246.1 2038.1,1251.5 2040.2,1256 2042.6,1257 2044.9,1256.8 2047.3,1257.4 2050.1,1256 2054.3,1270.1 2056.4,1269.2 2058.6,1271.5 2061.4,1274.9 2064.2,1280 2067.1,1284.9 2069.9,1291.4 2072.8,1294.9 2075.6,1297 2078.4,1322.5 2081.2,1329.1 2084,1335.2 2086.9,1353.6 2089,1356.5 2091.1,1359.3 2095.4,1370.6 2097.7,1366.8 2100.1,1364.5 2102.4,1360.7 2105.2,1365.4 2108.1,1370.6 2110.2,1369.1 2112.4,1366.4 2114.7,1372.1 2117.1,1377 2119.4,1381.9 2122.2,1387.5 2125.1,1393.3 2122.7,1391.3 2124.8,1393.4 2126.9,1395.6 2131.2,1416.8 2133.3,1417.4 2135.4,1419.6 2137.6,1424.6 2139.7,1429.5 2141.8,1427.4 2143.9,1423.9 2146.1,1427.4 2148.2,1429.5 2150.3,1429.2 2152.4,1426.7 2155.2,1431 2158.1,1435.2 2160.9,1447.9 2163.8,1453.7 2166.6,1459.3 2168.7,1462.5 2170.8,1466.3 2173.7,1472.4 2176.5,1479.1 2178.6,1481.4 2180.7,1483.3 2182.8,1479.9 2185,1474.8 2187.3,1475.4 2189.7,1474.4 2192,1473.4 2194.4,1475.5 2196.7,1478.8 2199.1,1481.9 2200.5,1490.4 2202.9,1487.5 2205.2,1484.7 2207.6,1483.3 2209.7,1480.8 2211.8,1481.9 2214.7,1477.9 2217.5,1474.8 2220.3,1479.5 2223.2,1484.7 2227.4,1463.5 2229.8,1459.9 2232.1,1455.9 2234.5,1452.2 2238.7,1466.3 2241.6,1462 2244.4,1457.8 2247.2,1459.3 2251.5,1446.5 2254.3,1446.1 2257.1,1443.7 2261.4,1460.7 2264.2,1460.2 2267,1457.8 2271.3,1440.9 2274.2,1445 2277,1447.9 2281.2,1464.9 2284.1,1470 2286.9,1473.4 2289.7,1483.3 2292.5,1485.5 2295.3,1486.1 2298.2,1498.9 2301,1501.5 2303.8,1504.5 2309.5,1527.2 2312.3,1531.4 2315.2,1526.7 2318,1522.9 2323.7,1538.5 2327.9,1565.4 2330.8,1558.4 2333.6,1552.7 2335.9,1550.5 2338.3,1548.5 2340.6,1547 2343.4,1549.9 2346.3,1553.1 2349.1,1555.5 2351.9,1549.7 2354.8,1544.2 2357.2,1541.4 2359.5,1539.1 2361.9,1535.7 2367.5,1511.6 2370.3,1518.2 2373.2,1524.4 2375.6,1519.6 2377.9,1514.1 2380.3,1508.8 2382.4,1512.1 2384.5,1515.9 2386.7,1516.2 2388.8,1517.3 2390.9,1520 2393,1524.4 2395.2,1526.4 2397.3,1528.6 2400.1,1529.6 2402.9,1531.4 2408.6,1549.8 2414.2,1569.6 2417.1,1574.3 2419.9,1578.1 2422.3,1577.3 2424.6,1577.9 2427,1578.1 2429.3,1582.5 2431.7,1586.6 2434,1590.9 2436.4,1593 2438.7,1594.3 2441.1,1596.5 2443.9,1603.2 2446.8,1610.7 2449.2,1610.2 2451.5,1611.5 2453.9,1613.5 2456.7,1609.9 2459.6,1607.6 2462.4,1605 2464.7,1602.8 2467.1,1600.8 2469.4,1599.4 2472.2,1603.9 2475.1,1609.3 2479.3,1626.3 2482.1,1623.7 2485,1624.1 2487.8,1624.8 2490.6,1622.8 2493.5,1620.2 2496.3,1619.2 2500.1,1622.2 2502.4,1620.8 2505.2,1626.1 2508,1632.1 2510.4,1636.4 2512.7,1640.4 2515.1,1644.8 2517.9,1638.4 2520.8,1632.1 2523.3,1631 2525.8,1632.5 2528.2,1631.9 2530.7,1629.3 2533,1630.7 2535.4,1628.6 2537.7,1627.9 2540.1,1626.4 2542.4,1624.2 2544.8,1622.2 2547.3,1624.6 2549.8,1626.2 2552.2,1628.6 2554.7,1630.7 2557.6,1625.5 2560.4,1620.8 2562.9,1619.7 2565.4,1619.9 2567.8,1617.2 2570.3,1616.5 2572.7,1616.9 2575,1619.2 2577.4,1620.8 2579.5,1623.9 2581.6,1626.4 2584,1625.4 2586.3,1624.9 2588.7,1623.6 2590.8,1621.1 2592.9,1618 2595.3,1622.1 2597.6,1626.2 2600,1629.3 2602.2,1630.8 2604.3,1632.1 2606.6,1628.1 2609,1623.8 2611.3,1619.4 2614.2,1622 2617,1625 2619.8,1620.9 2622.7,1616.5 2624.8,1613.8 2626.9,1612.3 2629.7,1614.7 2632.6,1619 2635.4,1622.2 2638.2,1625.3 2641.1,1629.3 2643.4,1628.6 2645.8,1627.4 2648.1,1625 2650.9,1626.6 2653.8,1627.9 2656.7,1621.9 2659.5,1616.5 2662.3,1621.3 2665.2,1627.4 2668,1633.5 2670.8,1630.1 2673.6,1629.3 2676.4,1631.1 2679.3,1632.1 2681.7,1627.8 2684,1624.3 2686.4,1620.8 2689.2,1620.2 2692,1623.6 2694.8,1621.9 2697.7,1623.6 2700.1,1627.6 2702.4,1631.1 2704.8,1634.9 2707.6,1634 2710.4,1634 2713.2,1634.9 2716.1,1640.6 2718.9,1646.3 2721.3,1647.5 2723.6,1647.4 2726,1647.7 2728.8,1643.8 2731.6,1642 2738.7,1663.2 2741.6,1668.7 2744.4,1674.6 2747.2,1674 2750.1,1674.4 2752.9,1672.4 2755.7,1670.3 2758.6,1671.6 2761.4,1671.7 2764.2,1668.8 2767,1666.1 2769.8,1672.7 2772.7,1678.8 2775.2,1681.1 2777.8,1679.9 2780.3,1680.5 2782.9,1680.2 2785.4,1681.6 2787.6,1685.5 2789.7,1690.1 2792,1690.6 2794.4,1692.2 2796.7,1693 2799.1,1689.8 2801.4,1687 2803.8,1684.5 2806.2,1684.9 2808.5,1684.4 2810.9,1683.1 2813.3,1685.2 2815.6,1686.5 2818,1687.3 2820.4,1690.2 2822.7,1693.2 2825.1,1695.8 2827.9,1683.1 2830.7,1684.1 2833.6,1684.1 2836.4,1685.2 2839.2,1684.5 2841.6,1681.4 2843.9,1678.4 2846.3,1674.6 2849.1,1672 2851.9,1668.9 2854.8,1668.2 2857.6,1666.1 2860.1,1666.2 2862.7,1666 2865.2,1665.6 2867.8,1667.7 2870.3,1667.5 2873.2,1665.8 2876,1663.6 2878.8,1661.6 2881.7,1659 2884,1659.6 2886.4,1660.8 2888.7,1661.8 2891.6,1664.4 2894.4,1667.5 2897.2,1673.9 2900.1,1681.6 2902.6,1681.8 2905.1,1682.7 2907.5,1685.4 2910,1685.9 2912.5,1684.2 2914.9,1682.5 2917.4,1682 2919.9,1680.2 2922.7,1679 2925.6,1676.6 2928.4,1675.8 2931.2,1674.6 2933.7,1674.6 2936.1,1677 2938.6,1676.3 2941.1,1677.4 2943.9,1673.6 2946.8,1669.3 2949.6,1667.5 2952.1,1664.7 2954.6,1665.2 2957,1663.4 2959.5,1661.8 2962.3,1663.7 2965.2,1666.5 2968,1668.9 2970.8,1670.5 2973.7,1672.3 2976.5,1675.7 2979.3,1676 2982.1,1679.7 2985,1681.3 2987.8,1683 2990.7,1683.1 2993.5,1684.5 2996.3,1685.1 2999.2,1688 3002,1690 3004.8,1691.5 3007.6,1690.2 3010.5,1688.7 3013.3,1687.3 3016.1,1682.6 3018.9,1677.4 3021.8,1675.8 3024.6,1673.2 3027.4,1674.2 3030.3,1674.8 3033.1,1674.6 3035.9,1674 3038.8,1673.2 3040.9,1675.9 3043,1678.8 3045.4,1676.5 3047.7,1673.3 3050.1,1670.3 3052.5,1674.1 3054.8,1676.7 3057.2,1678.8 3060,1677.9 3062.8,1676 3065.7,1676.5 3068.5,1674.6 3071.3,1678.9 3074.1,1683.1 3076.9,1685.1 3079.8,1687.3 3082.2,1689.9 3084.5,1692.9 3086.9,1695.8 3089.4,1692.9 3091.9,1690.5 3094.3,1687 3096.8,1683.1 3099.6,1684.3 3102.5,1685.2 3105.3,1687.3 3107.4,1688.2 3109.5,1691.5 3114.6,1671.7" fill="none" stroke="#ff0000" stroke-width="11.5" stroke-linejoin="round" stroke-linecap="butt"/>
<polyline points="438.5,1753.3 440.6,1752.9 442.7,1752.4 445.5,1752.7 448.4,1751 451,1751.2 453.6,1752.6 456.2,1752.5 458.8,1752.7 461.4,1754.9 464,1753.8 466.8,1754.2 469.7,1753.2 472.5,1753.2 475.3,1753.3 478.2,1752 481,1751 483.8,1751.6 486.6,1750 489.4,1749.7 492.3,1749.4 495.1,1748.3 497.9,1749.6 500.5,1748.3 503,1748.6 505.6,1750.1 508.1,1751.2 510.7,1752.4 513.5,1751.1 516.4,1750.8 519.2,1749.1 522,1749 524.9,1748.8 527.7,1748.2 530.3,1748 532.9,1746.4 535.5,1745.6 538,1743.5 540.6,1743.4 543.2,1743.9 546,1741 548.9,1741.2 551.7,1743.8 554.5,1743.9 557.4,1741.2 560.2,1741.6 563,1740.9 565.9,1739.7 568.7,1739.7 571.6,1740.5 574.4,1741 577.2,1741.9 580.1,1741.2 582.9,1741.1 585.7,1742.2 588.5,1743.4 591.4,1744.4 594.2,1746.7 597,1749.7 599.9,1752.9 602.7,1756.7 605.5,1757.9 608.4,1756.8 611.2,1757.3 614,1759.5 616.8,1757.5 619.6,1756 622.5,1758.3 625.3,1755.5 628.1,1756.7 630.7,1755.9 633.2,1756.3 635.8,1758.6 638.3,1756.5 640.9,1758.1 643.5,1757.2 646.1,1755.4 648.6,1754.3 651.2,1752.8 653.8,1752.4 656.4,1751 659.2,1749.8 662.1,1749.9 664.9,1750.3 667.8,1751.6 670.6,1749.6 673.4,1748.5 676.3,1750.9 679.1,1751.6 682,1750.8 684.8,1751 687.6,1750.6 690.5,1749.4 693.3,1750.1 696.1,1748.2 698.9,1749.1 701.8,1748.4 704.6,1748.1 707.4,1747.9 710.3,1747.9 713.1,1748.2 715.9,1745.8 718.8,1745.6 721.6,1742.1 724.4,1741.1 727.2,1737.1 730.1,1737.7 732.9,1738.3 735.7,1737.9 738.6,1739.2 741.4,1739.7 744.2,1740.2 747,1740.9 749.9,1742 752.7,1742.5 755.5,1742.7 758.4,1741.1 761.2,1740.1 764,1739.7 766.8,1741.5 769.7,1741 772.5,1739.7 775.3,1741.2 778.2,1744.4 781,1745.9 783.9,1746.6 786.7,1748.2 789.5,1747 792.3,1747.5 795.2,1746.6 798,1745.8 800.8,1745.2 803.6,1746.7 806.4,1746.6 809.3,1749 812.1,1749.4 814.9,1749.3 817.8,1751.4 820.6,1752.4 823.4,1751.6 826.3,1751.4 829.1,1751.1 832,1749.5 834.8,1748.2 837.6,1747.7 840.4,1747 843.3,1745.5 846.1,1746 848.9,1745.3 851.7,1746.7 854.5,1746.1 857.4,1745.4 860.2,1745.3 863.1,1744.4 865.9,1743.2 868.8,1742.2 871.6,1742.5 874.4,1741.6 877.2,1741.2 880.1,1741.5 882.9,1740.5 885.7,1741.9 888.6,1742.3 891.4,1741.3 894.2,1742.5 897,1739.2 899.9,1739.7 902.7,1734.9 905.5,1731.2 908.4,1730.9 911.2,1729.8 914,1730.1 916.9,1730.6 919.7,1731.2 922.5,1732.6 925.3,1732.9 928.1,1731.8 931,1733.2 933.8,1732.6 936.6,1734 939.5,1735.4 942.4,1733.8 945.2,1731.2 948,1732.5 950.9,1733 953.7,1734 956.5,1736.1 959.3,1739.7 962.1,1743.4 965,1748.2 967.8,1746.9 970.6,1747.3 973.5,1746.8 976.3,1745.4 979.1,1745.3 981.9,1745.2 984.8,1745.7 987.6,1744.8 990.5,1743.9 993.3,1743.9 996.1,1744 998.9,1745.5 1001.8,1746.2 1004.6,1745.7 1007.4,1746.7 1010.2,1747 1013.1,1746.7 1015.9,1746.5 1018.8,1748.3 1021.6,1748.9 1024.5,1747.8 1027.3,1748.2 1030.1,1747.8 1032.9,1747.9 1035.8,1746.7 1038.6,1746.7 1041.4,1747 1044.2,1748.3 1047.1,1747.2 1049.9,1748.7 1052.7,1749.6 1055.5,1749.8 1058.3,1749.6 1061.2,1747.7 1064,1748.2 1066.8,1747.8 1069.7,1746.8 1072.5,1747.4 1075.4,1747.6 1078.2,1746.7 1081,1744.1 1083.8,1740.8 1086.7,1737.8 1089.5,1735.4 1092.3,1734.9 1095.2,1733.2 1098,1733 1100.9,1732.5 1103.7,1731.2 1106.5,1731.5 1109.3,1734 1112.2,1733.3 1115,1732.6 1117,1734 1119.8,1735.8 1122.7,1732.4 1125.5,1732.6 1128.3,1730 1131.2,1732.4 1134,1732.6 1136.8,1735.7 1139.7,1738.2 1142.5,1741.1 1144.6,1743.9 1146.7,1746.7 1149.2,1744.3 1151.7,1743.5 1154.1,1742.3 1156.6,1742.5 1159.4,1742.1 1162.3,1743.8 1165.1,1743.9 1167.9,1743.6 1170.8,1743.4 1173.6,1742.5 1176.4,1742.8 1179.2,1743.4 1182.1,1744.5 1184.9,1745.3 1187.7,1743.7 1190.6,1743.2 1193.4,1740.8 1196.2,1739.7 1199,1740.3 1201.9,1738.1 1204.8,1738.3 1207.6,1736.8 1210.4,1735.8 1213.2,1736.6 1216.1,1735.3 1218.9,1734 1221.7,1734.4 1224.5,1734.4 1227.4,1733 1230.2,1731.9 1233,1732.6 1235.8,1730 1238.7,1732.1 1241.5,1731.2 1244.4,1730.7 1247.2,1731.2 1250,1731.6 1252.8,1734 1255.7,1732.6 1258.5,1734 1261.3,1732.1 1264.2,1730.2 1267,1728.9 1269.8,1726.9 1272.7,1724.4 1275.5,1723.3 1278.3,1722.9 1281.2,1721.3 1284,1723.2 1286.8,1724.1 1289.7,1722.5 1292.5,1722.7 1295.3,1722.1 1298.2,1721.3 1301,1719.5 1303.8,1719.9 1306.2,1717.2 1308.5,1716.9 1310.9,1715.6 1313.3,1715.8 1315.6,1715.5 1318,1715.6 1320.8,1719.7 1323.6,1722.7 1326.4,1724.3 1329.3,1726.6 1332.1,1728.3 1334.9,1728.8 1337.8,1729.1 1340.6,1729.9 1343.4,1729.8 1346.2,1730.5 1349.1,1730.9 1352,1731.3 1354.8,1731.2 1357.6,1733.3 1360.4,1731.9 1363.2,1731.2 1366,1730.6 1368.9,1729.1 1371.7,1726.9 1374.5,1724.9 1377.4,1723.2 1380.2,1720.3 1383.1,1718.4 1385.9,1719.7 1388.7,1719.1 1391.5,1719.9 1394.3,1718 1397.2,1717 1400,1716.3 1402.8,1716.3 1405.7,1715.9 1408.5,1714.2 1411.3,1715.9 1414.2,1715.5 1417,1715 1419.8,1716.2 1422.7,1716.9 1425.5,1717 1428.3,1715.5 1431.2,1715.6 1434,1714.2 1436.5,1713.9 1439,1712.2 1441.4,1712.2 1443.9,1711.4 1446.7,1704.9 1449.6,1698.7 1452.4,1693 1455.2,1690.5 1458.1,1687.4 1460.9,1685.9 1463.4,1685.2 1465.8,1684.2 1468.3,1685.9 1470.8,1685.9 1473.6,1686 1476.4,1687.2 1479.3,1686.7 1482.1,1688.7 1484.9,1686.8 1487.8,1686.8 1490.6,1685.8 1493.5,1683.1 1496.3,1683.1 1499.1,1684.7 1501.9,1685.9 1504.7,1691.9 1507.6,1697.3 1510.4,1702.9 1513.2,1704 1516.1,1702.1 1518.9,1702 1521.7,1702.9 1524.6,1703.4 1527.4,1701.5 1530.2,1700.8 1533.1,1697.6 1535.9,1695.8 1538.7,1693.1 1541.6,1692.7 1544.4,1690.5 1547.3,1689.5 1550.1,1688.7 1552.9,1685.7 1555.7,1684.9 1558.6,1683.3 1561.4,1681.4 1564.2,1678.8 1567,1680.5 1569.8,1681.8 1572.7,1683 1575.5,1684.5 1578.3,1683.3 1581.2,1681.9 1584,1680.2 1586.8,1681.4 1589.7,1681.5 1592.5,1683.8 1595.3,1683.1 1598.1,1686.5 1601,1689.7 1603.8,1691.5 1606.7,1690.2 1609.5,1686.6 1612.3,1683.2 1615.2,1681.6 1618,1681.1 1620.9,1679.6 1623.7,1678.8 1626.5,1672.5 1629.3,1666.1 1636.4,1647.7 1638.9,1646.1 1641.3,1644.9 1643.8,1642.7 1646.3,1642 1649.1,1641 1652,1640.4 1654.8,1640.6 1657.6,1639 1660.5,1636.1 1663.3,1636.4 1666.1,1632.5 1669,1628.9 1671.8,1625 1674.6,1623.4 1677.4,1623.5 1680.3,1624.4 1683.1,1625 1685.9,1631.5 1688.8,1637.8 1691.6,1644.6 1694.4,1650.5 1697.2,1649.8 1700.1,1647.7 1702.9,1646.4 1705.8,1646.2 1708.6,1644.8 1711.1,1643.3 1713.7,1643 1716.2,1642.3 1718.8,1641.1 1721.3,1639.2 1723.7,1641.6 1726,1642.3 1728.4,1643.4 1730.9,1644.3 1733.3,1644.5 1735.8,1644.9 1738.3,1646.3 1741.1,1643.1 1743.9,1641.2 1746.8,1638.9 1749.6,1637.8 1752.1,1639.6 1754.5,1643.1 1757,1646.3 1759.5,1649.1 1762.3,1650.8 1765.2,1653.6 1768,1654.8 1773.7,1671.7 1782.2,1698.6 1785,1704.7 1787.8,1709.9 1790.7,1707.2 1793.5,1702.9 1796.8,1705.7 1800,1708.3 1802.8,1709.6 1805.7,1712.6 1808.5,1710.2 1811.4,1708 1814.2,1705.5 1816.5,1705.7 1818.9,1705.2 1821.2,1704.1 1824.1,1700.5 1826.9,1695.6 1829.8,1691.5 1832.6,1687.1 1835.4,1683.2 1838.2,1678.6 1841.1,1675.5 1843.9,1673 1846.7,1670.2 1849.5,1671.5 1852.3,1671 1855.2,1673 1858.1,1674.3 1860.9,1674.4 1863.7,1676.5 1866.5,1680 1869.3,1685.1 1872.2,1689.9 1875,1696.2 1877.8,1702.7 1880.7,1702.9 1883.5,1704.1 1886.3,1704.6 1889.2,1705.6 1892,1705.5 1894.8,1706.9 1897.2,1704.9 1899.5,1703.3 1901.9,1701.3 1904,1703.3 1906.1,1704.1 1908.9,1702.5 1911.8,1701.3 1914.2,1703.2 1916.5,1705 1918.9,1704.1 1921.7,1705.1 1924.6,1701.5 1927.4,1699.9 1929.9,1698.7 1932.3,1696 1934.8,1695.4 1937.3,1694.2 1939.7,1695 1942,1694.3 1944.4,1695.6 1946.5,1693 1948.6,1692.8 1951.4,1693.7 1954.3,1695.6 1956.6,1697.2 1959,1698.1 1961.3,1699.9 1964.2,1709.8 1967,1709.2 1969.8,1709.8 1972.7,1707 1975.5,1707.3 1978.3,1708 1981.2,1708.3 1983.3,1711.1 1985.4,1714 1988.2,1714.2 1991.1,1711.8 1993.9,1711.2 1998.1,1699.9 2000.2,1697.3 2002.4,1698.4 2005.2,1698.9 2008.1,1699.7 2010.9,1701.3 2013.7,1702.1 2016.6,1703.7 2019.4,1704.1 2021.7,1706.5 2024.1,1708.9 2026.4,1709.8 2029.2,1712.4 2032.1,1711.2 2034.9,1712.6 2037.3,1712.8 2039.6,1715.1 2042,1714 2044.4,1717 2046.7,1720.2 2049.1,1722.5 2053.3,1735.2 2056.1,1736.9 2059,1737.9 2061.8,1739.5 2064.3,1740.5 2066.8,1740.3 2069.2,1738.9 2071.7,1738.1 2074.5,1737.4 2077.4,1734.7 2080.2,1733.8 2083,1734.2 2085.9,1736.4 2088.7,1737.4 2091.6,1737.7 2094.4,1739.5 2097.2,1739 2100.1,1738.9 2102.9,1738.1 2105.7,1739.5 2108.6,1739.7 2111.4,1738.5 2114.2,1738.1 2117.1,1737.2 2119.9,1736.7 2122.7,1737.4 2125.5,1738.3 2128.3,1739.5 2130.7,1742.1 2133,1744.4 2135.4,1745.1 2137.8,1747.5 2140.1,1747.3 2142.5,1746.6 2145.3,1747.3 2148.2,1748.3 2151,1747.8 2153.8,1748 2156.6,1748.7 2159.5,1747.6 2162.3,1749.4 2164.8,1748.1 2167.2,1749.5 2169.7,1747.8 2172.2,1748 2175,1744.7 2177.9,1742.7 2180.7,1740.9 2183.6,1740.3 2186.4,1738.1 2188.7,1740.1 2191.1,1738.6 2193.4,1738.1 2196.2,1738.9 2199.1,1739.8 2201.9,1740.9 2204.7,1741.1 2207.6,1742.4 2210.4,1743.7 2213.2,1742.6 2216.1,1742.3 2218.9,1741.3 2221.8,1742.1 2224.6,1743.7 2227.4,1745.6 2230.3,1747.8 2233.1,1750.8 2235.9,1754.4 2238.7,1759.3 2241.5,1758.7 2244.4,1759.5 2247.2,1757.7 2250.1,1756.5 2252.9,1755.3 2255.8,1754.7 2258.6,1753.2 2261.4,1752.2 2263.8,1751.1 2266.1,1752.1 2268.5,1750.8 2271,1751.5 2273.4,1752.3 2275.9,1753.3 2278.4,1755.1 2281.2,1753.4 2284.1,1753.4 2286.9,1753.6 2289.7,1752.3 2292.5,1751.8 2295.3,1749.4 2298.1,1751.3 2301,1751.7 2303.8,1752.2 2306.6,1751.2 2309.5,1751.7 2312.3,1751 2315.2,1751.6 2318,1752.2 2320.8,1753.8 2323.7,1754.7 2326.5,1755.4 2329.3,1756.5 2332.1,1755.2 2334.9,1754.8 2337.8,1754.3 2340.6,1753.6 2343.4,1753.9 2346.3,1754.8 2349.1,1756.5 2351.9,1755.4 2354.8,1752.7 2357.7,1751.5 2360.5,1750.8 2363.3,1748.3 2366.1,1748.5 2368.9,1746.6 2371.8,1747.8 2374.6,1748.1 2377.5,1748.4 2380.3,1748 2383.1,1748.7 2385.9,1748.6 2388.8,1746.7 2391.6,1747.7 2394.4,1748 2397.2,1748 2400.1,1746.2 2402.9,1747.2 2405.7,1746.6 2408.5,1748.5 2411.4,1748.6 2414.2,1750.8 2416.8,1751.9 2419.3,1753.7 2421.9,1755.4 2424.4,1757.6 2427,1759.3 2429.5,1757.6 2431.9,1757.3 2434.4,1757.1 2436.9,1756.5 2439.7,1756.7 2442.6,1756.1 2445.4,1755.4 2448.2,1755.1 2451,1756.1 2453.9,1754.6 2456.7,1756.5 2459.5,1756.2 2462.4,1755.4 2465.2,1755.1 2468,1753.6 2470.8,1753.6 2473.7,1752.1 2476.5,1751.1 2479.3,1753.6 2482.2,1753.9 2485,1756.5 2487.8,1755.5 2490.7,1757.2 2493.5,1756.8 2496.3,1757.9 2499.5,1756.7 2502.1,1755.4 2504.7,1755.6 2507.3,1758.3 2509.9,1758 2512.5,1757.5 2515.1,1758.1 2517.6,1756.2 2520.1,1754.8 2522.5,1754.2 2525,1753.8 2527.4,1750.5 2529.7,1747.7 2532.1,1743.9 2534.9,1742.3 2537.8,1739.5 2540.6,1736.4 2543.4,1734 2545.8,1729.4 2548.1,1724.6 2550.5,1721.3 2553.3,1717.3 2556.1,1715.6 2558.5,1715.6 2560.8,1716 2563.2,1717 2566,1717.1 2568.9,1715.7 2571.7,1717 2574.1,1717.7 2576.4,1718.3 2578.8,1718.4 2580.9,1721.4 2583,1724.1 2585.8,1725.8 2588.7,1725.6 2591.5,1728.3 2594.3,1731 2597.2,1734.3 2600,1738.3 2602.4,1742.5 2604.7,1746 2607.1,1749.6 2609.5,1752.3 2611.8,1755.6 2614.2,1758.1 2617,1757.4 2619.9,1759.2 2622.7,1758.1 2625.5,1759.8 2628.4,1761.7 2631.2,1763.7 2634,1764.5 2636.8,1766.8 2639.6,1768 2642.4,1766.6 2645.3,1768.5 2648.2,1768.2 2651,1769.4 2653.8,1768.1 2656.7,1766.3 2659.5,1765.9 2662.3,1765.1 2665.1,1764.9 2668,1765.2 2670.8,1764.9 2673.6,1765 2676.5,1765.2 2679.3,1763.7 2682.1,1762.7 2684.9,1760.7 2687.8,1759.1 2690.6,1759.1 2693.4,1758.1 2695.8,1758.7 2698.1,1760.6 2700.5,1760.9 2703.1,1761.1 2705.7,1759.7 2708.3,1760.7 2710.9,1762 2713.5,1760.5 2716.1,1759.5 2718.6,1757.1 2721.1,1754.7 2723.5,1753.3 2726,1751 2728.5,1750.6 2730.9,1750.4 2733.4,1751.4 2735.9,1751 2738.7,1750.1 2741.6,1749 2744.4,1747.4 2747.2,1746.7 2749.7,1745.6 2752.1,1745.8 2754.6,1745.7 2757.1,1745.3 2759.9,1744.3 2762.8,1742.4 2765.6,1741.1 2768.1,1742 2770.6,1743 2773,1743.5 2775.5,1743.9 2778,1746.4 2780.4,1748.9 2782.9,1750.7 2785.4,1752.4 2787.9,1754.4 2790.4,1755.5 2792.8,1757.7 2795.3,1759.5 2798.2,1759.1 2801,1758.5 2803.8,1757.6 2806.7,1758.1 2809.5,1759 2812.3,1761.8 2815.2,1761.9 2818,1762.1 2820.8,1762.3 2823.6,1762.7 2826.4,1761.4 2829.3,1761.2 2832.1,1760.9 2834.6,1761.1 2837.1,1761.6 2839.5,1762.9 2842,1763.7 2844.6,1763.5 2847.1,1763.1 2849.7,1762.1 2852.2,1762.5 2854.8,1762.3 2857.6,1760.9 2860.5,1761.6 2863.3,1760.9 2866.1,1762.2 2868.9,1763.7 2871.8,1765.7 2874.6,1766.6 2877.4,1767 2880.2,1765.1 2883.1,1764.9 2885.9,1765.1 2888.7,1763.7 2891.6,1761.6 2894.4,1759 2897.2,1759.5 2900,1757.9 2902.9,1758.2 2905.8,1758.6 2908.6,1758.1 2911.4,1757.8 2914.2,1757.3 2917,1756.7 2919.8,1756.6 2922.7,1757.3 2925.6,1756.6 2928.4,1755.2 2931.2,1756.7 2934,1756.4 2936.9,1757.9 2939.7,1757.8 2942.5,1758.1 2945.3,1759.5 2948.2,1758.1 2951,1759.8 2953.8,1760.9 2956.6,1761.5 2959.5,1762.1 2962.3,1764.2 2965.2,1764.9 2968,1765.1 2970.8,1764.6 2973.7,1763.4 2976.5,1764.4 2979.3,1762.3 2982.1,1764.1 2985,1764.5 2987.8,1763.8 2990.7,1765.6 2993.5,1765.1 2996.3,1764.9 2999.2,1763.2 3002,1761.9 3004.8,1760.9 3007.6,1759.6 3010.5,1761.3 3013.3,1760.6 3016.1,1762.1 3019,1761.8 3021.8,1762.3 3024.6,1762.4 3027.4,1763.7 3030.3,1764.6 3033.1,1765.1 3035.9,1764.4 3038.8,1765.1 3041.6,1766.2 3044.4,1766 3047.3,1765.1 3050.1,1766.6 3052.9,1767.1 3055.7,1767.9 3058.6,1769.1 3061.4,1770.7 3064.2,1772.2 3066.7,1771 3069.1,1769.9 3071.6,1767.8 3074.1,1768 3076.5,1768.1 3078.8,1768.6 3081.2,1769.4 3083.7,1767 3086.1,1765.1 3088.6,1764 3091.1,1760.9 3093.6,1760.2 3096.1,1758.6 3098.5,1759.8 3101,1759.5 3103.7,1759 3106.4,1760.9 3109.2,1759.8 3111.9,1760 3114.6,1760.9" fill="none" stroke="#000000" stroke-width="11.5" stroke-linejoin="round" stroke-linecap="butt"/>
<polyline points="438.5,1763.7 440.6,1763 442.7,1762.3 445.3,1761.5 447.8,1759.9 450.4,1759.1 452.9,1758.5 455.5,1756.7 458.3,1758.7 461.2,1760.8 464,1760.9 466.5,1760.3 469.1,1759.8 471.6,1758.7 474.2,1757.8 476.7,1758.1 479.5,1758.5 482.4,1759.9 485.2,1760.9 488,1760.3 490.9,1759.5 493.7,1758.1 496.5,1760.9 499.4,1761.5 502.2,1760.9 504.8,1759.8 507.4,1759.9 510,1758.9 512.5,1758.3 515.1,1759.4 517.7,1758.1 520.5,1756.8 523.4,1755.2 526.2,1753.2 529.1,1753.9 531.9,1753.5 534.7,1752.4 537.5,1751.8 540.4,1751.6 543.2,1752.4 546,1753 548.9,1754 551.7,1755.4 554.5,1756.7 557.3,1757.7 560.2,1755.7 563,1755.2 565.8,1755.5 568.7,1756.6 571.5,1758.7 574.3,1758.7 577.2,1760.9 580,1760.9 582.8,1759.6 585.6,1758.4 588.5,1758.3 591.3,1758.1 594.1,1757.6 597,1758.1 599.8,1759.5 602.6,1757.7 605.5,1756.4 608.4,1754.4 611.2,1752.4 614,1753.2 616.8,1755.1 619.7,1755.7 622.5,1756 625.3,1756.7 628.1,1757.3 631,1755.4 633.8,1755.2 636.6,1756.3 639.5,1757.8 642.3,1758.6 645.1,1759.5 647.9,1759.1 650.8,1759.7 653.6,1759 656.4,1759.5 659,1760.1 661.6,1760.9 664.2,1763.5 666.8,1764.1 669.4,1766.1 672,1766.6 674.6,1766.7 677.1,1765.5 679.7,1765.4 682.2,1764.8 684.8,1763.7 687.6,1763.5 690.4,1761.6 693.3,1761.6 696.1,1762 698.9,1760.9 701.7,1762.1 704.6,1763.2 707.4,1764.3 710.3,1764.3 713.1,1763.7 715.9,1766.3 718.8,1763.8 721.6,1763.9 724.4,1762 727.2,1764.3 730.1,1764.8 732.9,1765.1 735.7,1765.4 738.6,1763.5 741.4,1762.3 744.2,1760.4 747,1762.7 749.9,1761.2 752.7,1760.5 755.5,1762.3 758.3,1760.5 761.2,1760.2 764,1758.6 766.9,1757.8 769.7,1756.7 772.5,1755.6 775.4,1758.4 778.2,1758.4 781,1758.8 783.9,1759.6 786.7,1759.5 789.5,1759.8 792.4,1759.5 795.2,1758.2 798,1758.3 800.8,1758.7 803.7,1759.4 806.5,1758.1 809.3,1759.8 812.1,1761.1 815,1762.6 817.8,1764.2 820.6,1765.1 823.5,1764.8 826.3,1763.7 829.1,1761.2 831.9,1758.4 834.8,1756.6 837.6,1753.9 840.4,1751 843.2,1751.9 846.1,1755.2 848.9,1754.9 851.7,1755 854.5,1754.9 857.4,1754.2 860.2,1755.2 863,1754.4 865.9,1752.6 868.7,1751.1 871.6,1750.3 874.4,1748.2 877.2,1750.9 880,1752.3 882.9,1753.8 885.7,1756.7 888.5,1758 891.4,1758.6 894.2,1760.9 897,1762.3 899.8,1761.5 902.7,1760.2 905.5,1759.5 908.4,1758.2 911.2,1756.7 914,1758 916.9,1756.5 919.7,1755.5 922.5,1755.5 925.3,1753.7 928.2,1753.9 931,1752.4 933.8,1751.3 936.7,1750.5 939.5,1748 942.3,1746.9 945.2,1744.3 948,1743.9 950.8,1743.7 953.6,1744.9 956.5,1746.2 959.3,1746.7 962.1,1748 965,1748.2 967.8,1745.2 970.6,1744.1 973.5,1745.1 976.3,1743.9 979.1,1745.7 982,1745.6 984.8,1747.6 987.6,1748 990.4,1749 993.3,1749.9 996.1,1752.4 998.9,1751.3 1001.8,1754.2 1004.6,1753.6 1007.5,1752.8 1010.3,1752.4 1013.1,1755.3 1016,1754.4 1018.8,1754.7 1021.6,1755.1 1024.5,1756.3 1027.3,1756.7 1030.1,1755.2 1032.9,1754.8 1035.8,1752.7 1038.6,1751.5 1041.4,1749.6 1044.2,1751 1047.1,1751.3 1049.9,1751.8 1052.7,1753.8 1055.5,1753.5 1058.4,1751.9 1061.2,1753.4 1064,1754.3 1066.9,1754.9 1069.7,1755.2 1072.5,1755.6 1075.4,1756.5 1078.2,1756.7 1081,1756.1 1083.8,1756.4 1086.7,1754.4 1089.5,1755.2 1092.1,1755.8 1094.8,1755.3 1097.4,1756.5 1100,1756.7 1102.8,1757.3 1105.7,1758.1 1108.5,1759.5 1111,1758.1 1113.6,1759.1 1116.1,1757.2 1118.7,1756 1121.2,1756.7 1123.6,1755 1125.9,1753.9 1128.3,1752.4 1131.1,1751.8 1133.9,1750.3 1136.8,1749.4 1139.6,1749.6 1142.4,1750.3 1145.3,1749.6 1148.2,1750.9 1151,1751 1153.8,1749.6 1156.6,1747.5 1159.4,1745.3 1162.2,1744.8 1165.1,1747.3 1168,1747 1170.8,1746.7 1173.6,1747.3 1176.4,1746.6 1179.3,1745.7 1182.1,1746 1184.9,1746.7 1187.7,1745.9 1190.6,1744.6 1193.4,1744.4 1196.2,1743.9 1198.6,1742.6 1200.9,1740.7 1203.3,1738.3 1205.8,1740.2 1208.2,1742.5 1210.7,1744.4 1213.2,1745.3 1216,1747.3 1218.8,1746.7 1221.7,1746 1224.5,1748.2 1227.3,1746.8 1230.2,1745.4 1233,1743.7 1235.9,1742.7 1238.7,1741.1 1241.5,1741.2 1244.3,1741.1 1247.2,1743.5 1250,1742.5 1252.8,1743.3 1255.7,1745.6 1258.5,1746.7 1261.3,1744.5 1264.2,1742.2 1267,1738.9 1269.9,1736 1272.7,1732.6 1275.5,1733 1278.3,1733.9 1281.2,1733 1284,1735.4 1286.8,1734.7 1289.6,1736 1292.5,1736.8 1295.3,1737.2 1298.1,1738.3 1300.7,1738.4 1303.2,1736.2 1305.8,1736.2 1308.3,1735.5 1310.9,1735.4 1313.5,1736.4 1316.1,1737.7 1318.7,1740.3 1321.2,1740 1323.8,1742.2 1326.4,1742.5 1329.2,1743.2 1332.1,1741.4 1334.9,1739.8 1337.8,1738.1 1340.6,1738.3 1343.4,1738 1346.3,1741 1349.1,1739.6 1352,1741.5 1354.8,1742.5 1357.6,1742 1360.4,1744.4 1363.2,1744.1 1366.1,1742.6 1368.9,1742.8 1371.7,1743.9 1374.5,1744 1377.4,1744.5 1380.2,1743.9 1383.1,1744.4 1385.9,1745.3 1388.7,1743.4 1391.6,1742.6 1394.4,1741.3 1397.2,1739.7 1400,1738.8 1402.9,1737.1 1405.7,1736.7 1408.6,1734.9 1411.4,1734 1414.2,1733 1417.1,1733.1 1419.9,1733.3 1422.7,1734 1425.5,1732.7 1428.4,1730.7 1431.2,1731.8 1434,1731.4 1436.8,1731.2 1439.7,1729.4 1442.5,1728.3 1445.3,1729.9 1448.2,1730.7 1451,1731.2 1453.8,1731.5 1456.7,1733.1 1459.5,1731.5 1462.3,1731.9 1465.2,1729.8 1468,1731.2 1470.7,1730.5 1473.3,1729.8 1476,1728.4 1478.7,1727.8 1481.3,1725.9 1484,1725.6 1486.7,1726.1 1489.3,1723.7 1492,1725.5 1494.4,1726.8 1496.7,1728.9 1499.1,1729.8 1501.9,1729.4 1504.8,1728.2 1507.6,1727.7 1510.4,1727.6 1513.3,1728 1516.1,1729.8 1518.6,1730 1521.2,1727.7 1523.7,1727.6 1526.3,1727.5 1528.8,1725.5 1531.4,1725.7 1534,1726.1 1536.6,1727.3 1539.2,1727 1541.8,1728.7 1544.4,1728.3 1547.2,1731 1550.1,1730.1 1552.9,1729.3 1555.7,1730.4 1558.5,1730.8 1561.4,1730.3 1564.2,1731.2 1567,1730.8 1569.9,1731.1 1572.7,1731.7 1575.5,1732.6 1578.4,1731.3 1581.2,1731.2 1583.7,1730 1586.3,1729 1588.8,1732.1 1591.4,1731.2 1593.9,1731.2 1596.5,1729.5 1599,1729.8 1601.6,1728.3 1604.1,1727.6 1606.7,1724.1 1609.5,1723.5 1612.3,1721.2 1615.2,1719.5 1618,1718.7 1620.8,1717 1623.6,1716.6 1626.5,1715.8 1629.3,1716.5 1632.2,1715.6 1635,1712.8 1637.8,1711.7 1640.6,1710.8 1643.5,1709.9 1646.3,1708 1649.1,1707.1 1651.9,1706.8 1654.8,1705 1657.6,1703.6 1660.4,1700.8 1663.3,1698.3 1666.1,1697.2 1668.9,1696.9 1671.8,1696 1674.6,1695 1677.5,1694.7 1680.3,1694.4 1683.1,1693.3 1685.9,1692.2 1688.8,1690.9 1691.6,1690.1 1694.4,1688.7 1697.2,1689.8 1700.1,1688.3 1702.9,1685.8 1705.8,1685.9 1708.6,1683.1 1711.1,1683 1713.7,1680.9 1716.2,1679.8 1718.8,1678.4 1721.3,1680.2 1723.8,1679 1726.2,1677.3 1728.7,1675.7 1731.2,1676 1734,1672.4 1736.9,1669.9 1739.7,1667.5 1742.5,1664.2 1745.4,1662 1748.2,1660.4 1751.1,1661.4 1753.9,1663.2 1756.2,1662.5 1758.6,1660.8 1760.9,1660.4 1765.2,1643.4 1770.8,1626.4 1773.7,1623.7 1776.5,1620.8 1778.9,1622.4 1781.2,1624 1783.6,1625 1786.4,1630.6 1789.2,1636.4 1790,1639 1793.6,1637.6 1795.7,1614.9 1797.1,1596.5 1799.9,1586.6 1802.1,1588.1 1804.2,1590.9 1807.7,1586.6 1809.8,1572.5 1811.9,1556.9 1814.4,1552.4 1816.9,1547.7 1821.2,1568.2 1823.3,1572 1825.5,1575.3 1828.3,1582.4 1831.2,1583.6 1834,1585.2 1836.8,1581.9 1839.6,1579.6 1843.9,1558.3 1846.7,1555.6 1849.5,1552.7 1852.4,1575.3 1856.6,1589.5 1859,1592 1861.3,1592.3 1863.7,1592.3 1867.9,1603.6 1870.8,1608 1873.6,1609.3 1876,1609.5 1878.3,1608.1 1880.7,1606.4 1882.8,1601.7 1884.9,1596.5 1887.7,1597.3 1890.6,1594.9 1893.4,1595.1 1896.2,1598.5 1899.1,1602.2 1901.4,1605.1 1903.8,1606.4 1906.1,1609.3 1908.5,1613 1910.8,1617.1 1913.2,1620.6 1916.1,1625.7 1918.9,1629.1 1921.7,1632.1 1924.6,1632.6 1927.4,1633.3 1929.8,1637.7 1932.1,1639.9 1934.5,1643.2 1937.3,1646.1 1940.1,1650.3 1942.5,1651.4 1944.8,1652.1 1947.2,1651.7 1950,1650.6 1952.8,1651.2 1955.7,1651 1958.5,1650.5 1961.3,1648.9 1963.7,1650.4 1966,1651 1968.4,1653.2 1971.2,1650.3 1974.1,1650.3 1976.5,1652.6 1978.8,1655.6 1981.2,1658.8 1983.5,1659.7 1985.9,1661.1 1988.2,1663.1 1990.6,1662.5 1992.9,1660.5 1995.3,1660.2 1998.1,1663 2001,1667.5 2003.8,1670.1 2006.7,1671.6 2009.5,1673 2012.3,1677 2015.1,1681.5 2017.5,1682.6 2019.8,1681.2 2022.2,1682.9 2025,1681.6 2027.9,1678.6 2030.7,1677.2 2033.5,1676.6 2036.4,1676.5 2039.2,1678.6 2042,1675.5 2044.8,1674.4 2047.2,1674.2 2049.5,1676.4 2051.9,1677.2 2054.3,1678.2 2056.6,1680.1 2059,1680 2061.8,1679.5 2064.7,1676.8 2067.5,1675.8 2069.6,1678.5 2071.7,1681.5 2073.8,1684.7 2076,1688.5 2078.5,1689.8 2080.9,1691.9 2083.4,1694 2085.9,1695.6 2088.7,1697.8 2091.6,1698.3 2094.4,1701.3 2097.2,1702.6 2100.1,1704.5 2102.9,1706.9 2105.7,1706.5 2108.6,1704.4 2111.4,1702.7 2114.2,1705.1 2117.1,1707.5 2119.9,1709.8 2122.7,1711.1 2125.5,1711.2 2128,1709.6 2130.4,1708.7 2132.9,1707.7 2135.4,1706.9 2138.2,1706.3 2141.1,1705.7 2143.9,1705.5 2146.3,1705.9 2148.6,1707.2 2151,1708.3 2153.8,1706.4 2156.7,1706.9 2159.5,1712.2 2162.3,1716.8 2164.7,1718.1 2167,1717.6 2169.4,1719.7 2171.9,1718.2 2174.4,1718.6 2176.8,1717.5 2179.3,1716.8 2182.1,1716.6 2184.9,1714.4 2187.8,1717.1 2190.6,1716.8 2193.4,1717.7 2196.3,1718.3 2199.1,1717.8 2202,1719.2 2204.8,1721.1 2207.6,1722.3 2210.5,1722.7 2213.3,1722.5 2216.1,1718.4 2218.9,1715.4 2221.7,1714.9 2224.6,1716.1 2227.4,1716.8 2230.2,1719 2233.1,1718.9 2235.9,1719.6 2238.8,1719.3 2241.6,1719.7 2244.4,1719.4 2247.3,1717.9 2250.1,1718.3 2252.4,1716.1 2254.8,1714.8 2257.1,1715.4 2259.6,1714.9 2262.1,1717.3 2264.5,1717.7 2267,1718.3 2269.8,1720.3 2272.7,1721.4 2275.6,1722 2278.4,1722.5 2281.2,1722.8 2284.1,1725.2 2286.9,1723.9 2289.2,1723.2 2291.6,1721.4 2293.9,1718.3 2296.7,1721.8 2299.6,1721.4 2302.4,1718.3 2305,1720.5 2307.5,1721.3 2310.1,1722.4 2312.6,1724.7 2315.2,1723.9 2318,1723 2320.8,1720.5 2323.7,1719.8 2326.5,1719.7 2329.1,1719.1 2331.7,1718.8 2334.3,1720.2 2336.9,1720.5 2339.5,1720 2342.1,1719.7 2344.4,1722.6 2346.8,1726.3 2349.1,1728.2 2351.9,1732 2354.8,1732.4 2357.6,1734.6 2360.5,1732.3 2363.3,1731 2366.1,1733.2 2369,1732.6 2371.8,1733.8 2374.6,1731.8 2377.4,1734.6 2380.3,1735.1 2383.1,1733.8 2385.9,1736.3 2388.8,1738.6 2391.6,1740.7 2394.4,1740.9 2397.2,1740.8 2400.1,1739.3 2402.9,1738.2 2405.8,1737.3 2408.6,1735.2 2411.4,1736.9 2414.2,1736.8 2417.1,1740.1 2419.9,1739.9 2422.7,1740.9 2425.5,1739.6 2428.4,1739.3 2431.2,1738.1 2434,1738.2 2436.9,1738.7 2439.7,1738.1 2442.5,1739.3 2445.4,1738.4 2448.2,1736.1 2451.1,1735.2 2453.9,1733.8 2456.7,1735 2459.6,1736.8 2462.4,1736.7 2465.2,1736 2468,1734.8 2470.8,1735.2 2473.7,1734.2 2476.5,1736.3 2479.3,1737.5 2482.2,1738.1 2485,1739.8 2487.8,1741.2 2490.7,1741 2493.5,1742.1 2496.3,1743.7 2498.7,1744.4 2501,1746.7 2503.5,1748.2 2505.9,1749.7 2508.4,1749.3 2510.9,1751 2513.4,1751.2 2515.9,1751.2 2518.3,1751.2 2520.8,1751 2523.3,1752.3 2525.8,1752.2 2528.2,1752.8 2530.7,1753.8 2533.2,1752.8 2535.8,1752.3 2538.3,1751.6 2540.9,1753.1 2543.4,1752.4 2545.9,1751.5 2548.5,1749.7 2551,1747.1 2553.6,1747.7 2556.1,1745.3 2558.7,1746.1 2561.2,1745.9 2563.8,1746.2 2566.3,1747.5 2568.9,1745.3 2571.7,1744.8 2574.6,1741.7 2577.4,1741.3 2580.2,1741.1 2583,1741.8 2585.8,1742.6 2588.7,1745.1 2591.5,1745.3 2594.3,1746.1 2597.2,1747.1 2600.1,1747 2602.9,1748.2 2605.4,1749.6 2607.9,1750 2610.3,1751.8 2612.8,1752.4 2615.3,1751.3 2617.8,1749.8 2620.2,1748.5 2622.7,1746.7 2625.5,1746.9 2628.3,1748.2 2631.2,1750 2634,1750.9 2636.8,1752.4 2639.6,1753 2642.4,1752.9 2645.3,1751.3 2648.1,1751 2650.9,1750.8 2653.8,1749.1 2656.7,1748.3 2659.5,1746.7 2662,1748.3 2664.4,1746.3 2666.9,1745.7 2669.4,1746.7 2671.7,1748.8 2674.1,1751.2 2676.4,1753.8 2679.2,1751.2 2682.1,1750.9 2685,1749.7 2687.8,1748.2 2690.3,1747 2692.8,1745.6 2695.2,1744.5 2697.7,1742.5 2700.2,1741.6 2702.8,1741.5 2705.3,1740.6 2707.9,1739.8 2710.4,1739.7 2713.2,1739.2 2716.1,1741.3 2718.9,1741.1 2721.7,1738.7 2724.6,1738.4 2727.4,1739 2730.2,1738.3 2733,1739.2 2735.9,1740 2738.7,1742.2 2741.6,1742.4 2744.4,1743.9 2747.2,1747 2750.1,1750.6 2752.9,1753.8 2755.7,1753.1 2758.6,1752.5 2761.4,1752.6 2764.2,1752.4 2767,1752.1 2769.9,1750.2 2772.7,1749.6 2775.5,1751 2778.3,1751.9 2781.2,1752.8 2784,1753.1 2786.8,1755.2 2789.6,1756.6 2792.5,1757.1 2795.3,1756.7 2798.1,1755.3 2801,1752.9 2803.8,1751 2806.6,1753.5 2809.5,1753.9 2812.3,1755.2 2815.1,1755.5 2818,1756.2 2820.8,1758.1 2823.6,1756.9 2826.4,1756.7 2829.3,1754.4 2832.1,1755.2 2834.5,1753 2836.8,1751.5 2839.2,1749.6 2842,1750.1 2844.9,1748.8 2847.7,1748.2 2850.5,1750.3 2853.4,1752.1 2856.2,1751 2858.7,1750.4 2861.1,1748.9 2863.6,1748.5 2866.1,1746.7 2868.9,1748.9 2871.7,1749 2874.6,1750.4 2877.4,1749.5 2880.2,1751 2883,1752.5 2885.9,1753.6 2888.8,1755.1 2891.6,1755.2 2894.4,1757 2897.2,1758.2 2900.1,1758.5 2902.9,1759.5 2905.7,1760 2908.6,1757 2911.4,1757.1 2914.2,1756.7 2917,1758.4 2919.8,1761.8 2922.7,1762.8 2925.5,1765.1 2928.3,1764 2931.2,1763 2934.1,1762.6 2936.9,1760.9 2939.7,1759.7 2942.6,1757.5 2945.4,1756.3 2948.2,1755.2 2951,1755.8 2953.8,1755.8 2956.7,1754.2 2959.5,1752.9 2962.3,1753.8 2965.2,1752 2968,1752.9 2970.8,1753.3 2973.7,1753.8 2976.5,1752.4 2979.3,1751.4 2982.1,1751 2984.9,1751.6 2987.8,1753.4 2990.7,1754.4 2993.5,1753.8 2996.3,1755 2999.2,1756.4 3002,1756.7 3004.8,1756.3 3007.6,1756.7 3010.5,1756.4 3013.3,1755.8 3016.1,1753.8 3018.9,1756.8 3021.8,1756.6 3024.6,1756.5 3027.5,1757.1 3030.3,1755.2 3033.1,1755.8 3035.9,1756.1 3038.8,1756.6 3041.6,1758.1 3044.4,1758.1 3047.2,1758.1 3050.1,1756.5 3052.9,1756 3055.7,1756.7 3058.5,1757.2 3061.4,1758.2 3064.2,1759.3 3067.1,1760.9 3069.9,1759 3072.8,1759.6 3075.6,1758.5 3078.4,1759.5 3081.2,1757.7 3084.1,1756.6 3086.9,1755.7 3089.7,1755.2 3092.5,1756.8 3095.3,1756.7 3098.2,1757.1 3101,1758.1 3103.7,1756.9 3106.4,1758.2 3109.2,1760.1 3111.9,1761 3114.6,1762.3" fill="none" stroke="#808080" stroke-width="11.5" stroke-linejoin="round" stroke-linecap="butt"/>
</g>
<line x1="413.0" x2="440.2" y1="1842.1" y2="1842.1" stroke="#000" stroke-width="6.2"/>
<text x="386.6" y="1871.2" font-size="76.7" text-anchor="end">0.00</text>
<line x1="413.0" x2="440.2" y1="1601.2" y2="1601.2" stroke="#000" stroke-width="6.2"/>
<text x="386.6" y="1630.4" font-size="76.7" text-anchor="end">0.05</text>
<line x1="413.0" x2="440.2" y1="1360.3" y2="1360.3" stroke="#000" stroke-width="6.2"/>
<text x="386.6" y="1389.5" font-size="76.7" text-anchor="end">0.10</text>
<line x1="413.0" x2="440.2" y1="1119.5" y2="1119.5" stroke="#000" stroke-width="6.2"/>
<text x="386.6" y="1148.6" font-size="76.7" text-anchor="end">0.15</text>
<line x1="413.0" x2="440.2" y1="878.6" y2="878.6" stroke="#000" stroke-width="6.2"/>
<text x="386.6" y="907.7" font-size="76.7" text-anchor="end">0.20</text>
<line x1="413.0" x2="440.2" y1="637.7" y2="637.7" stroke="#000" stroke-width="6.2"/>
<text x="386.6" y="666.8" font-size="76.7" text-anchor="end">0.25</text>
<line x1="413.0" x2="440.2" y1="396.8" y2="396.8" stroke="#000" stroke-width="6.2"/>
<text x="386.6" y="426.0" font-size="76.7" text-anchor="end">0.30</text>
<line x1="440.2" x2="440.2" y1="1842.1" y2="1869.3" stroke="#000" stroke-width="6.2"/>
<text x="441.0" y="1954.2" font-size="76.7" text-anchor="middle">−500</text>
<line x1="1777.1" x2="1777.1" y1="1842.1" y2="1869.3" stroke="#000" stroke-width="6.2"/>
<text x="1777.1" y="1954.2" font-size="76.7" text-anchor="middle">0</text>
<line x1="3114" x2="3114" y1="1842.1" y2="1869.3" stroke="#000" stroke-width="6.2"/>
<text x="3114" y="1954.2" font-size="76.7" text-anchor="middle">500</text>
<rect x="440.2" y="248.2" width="2673.8" height="1593.8999999999999" fill="none" stroke="#000" stroke-width="6.2" stroke-linejoin="miter"/>
<text class="b" x="1777" y="2059" font-size="76.7" text-anchor="middle">Distance from reference (bp)</text>
<text class="b" transform="translate(169,1045) rotate(-90)" font-size="76.7" text-anchor="middle">Average occupancy</text>
<rect x="2233" y="287" width="842.6" height="473" rx="15" ry="15" fill="#fff" fill-opacity="0.8" stroke="#d6d6d6" stroke-width="7.8"/>
<line x1="2258.1" x2="2422.3" y1="348.8" y2="348.8" stroke="#0000ff" stroke-width="11.5"/>
<text x="2477.6" y="376.0" font-size="76.7">Nanog forward</text>
<line x1="2258.1" x2="2422.3" y1="461.2" y2="461.2" stroke="#ff0000" stroke-width="11.5"/>
<text x="2477.6" y="488.4" font-size="76.7">Nanog reverse</text>
<line x1="2258.1" x2="2422.3" y1="573.7" y2="573.7" stroke="#000000" stroke-width="11.5"/>
<text x="2477.6" y="600.9" font-size="76.7">IgG forward</text>
<line x1="2258.1" x2="2422.3" y1="686.1" y2="686.1" stroke="#808080" stroke-width="11.5"/>
<text x="2477.6" y="713.3" font-size="76.7">IgG reverse</text>
</svg></body></html>
